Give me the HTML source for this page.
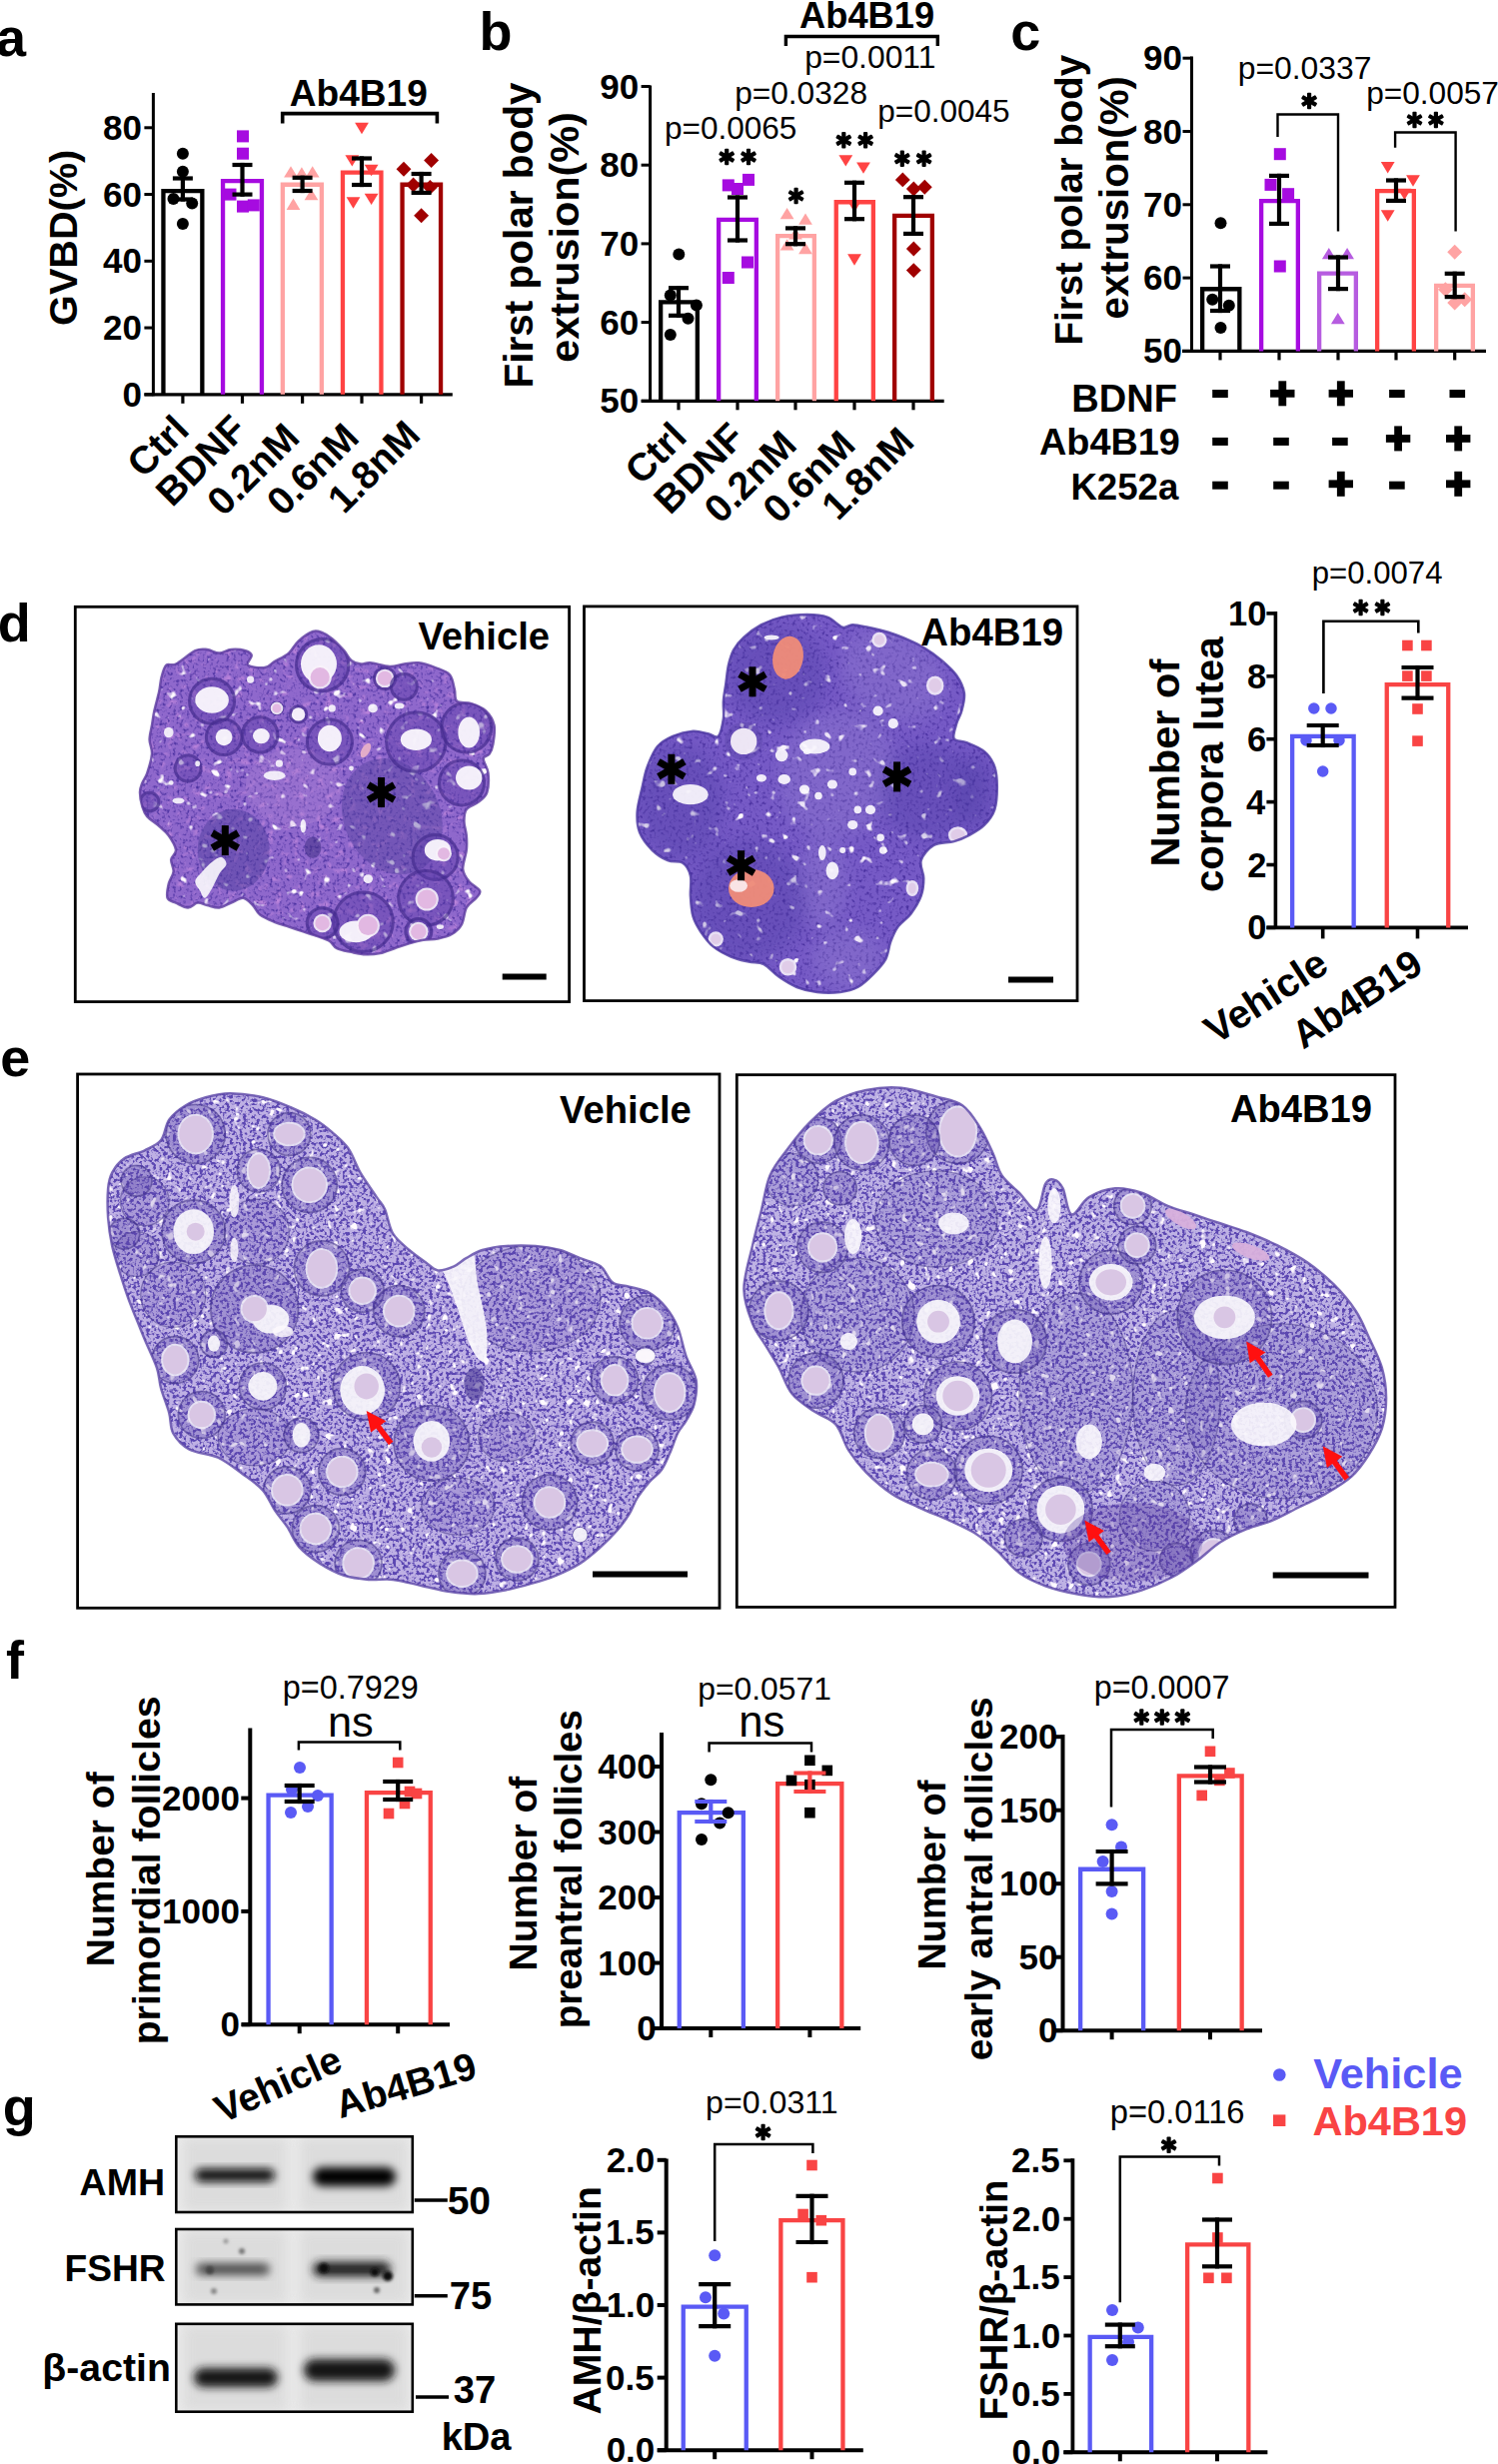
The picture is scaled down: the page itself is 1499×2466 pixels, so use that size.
<!DOCTYPE html>
<html><head><meta charset="utf-8"><style>
html,body{margin:0;padding:0;background:#fff;}
svg{display:block;}
text{font-family:"Liberation Sans", sans-serif;}
</style></head><body>
<svg width="1499" height="2466" viewBox="0 0 1499 2466">
<defs>
<filter id="bl3" x="-50%" y="-50%" width="200%" height="200%"><feGaussianBlur stdDeviation="3"/></filter>
<filter id="bl4" x="-50%" y="-50%" width="200%" height="200%"><feGaussianBlur stdDeviation="4"/></filter>
<filter id="bl2" x="-100%" y="-100%" width="300%" height="300%"><feGaussianBlur stdDeviation="1.8"/></filter>
<filter id="bl6" x="-50%" y="-50%" width="200%" height="200%"><feGaussianBlur stdDeviation="6"/></filter>
<clipPath id="blotclip"><rect x="177.5" y="2130" width="234" height="300"/></clipPath>
</defs>
<rect width="1499" height="2466" fill="#fff"/>
<defs><filter id="soft" x="-30%" y="-30%" width="160%" height="160%"><feGaussianBlur stdDeviation="8"/></filter>
<filter id="nzA" x="0" y="0" width="100%" height="100%" color-interpolation-filters="sRGB">
<feTurbulence type="fractalNoise" baseFrequency="0.3" numOctaves="2" seed="3" result="n"/>
<feColorMatrix in="n" type="matrix" values="0 0 0 0 0.28 0 0 0 0 0.18 0 0 0 0 0.62 -3.0 0 0 0 1.45"/>
</filter>
<filter id="nzB" x="0" y="0" width="100%" height="100%" color-interpolation-filters="sRGB">
<feTurbulence type="fractalNoise" baseFrequency="0.09" numOctaves="2" seed="7" result="n"/>
<feColorMatrix in="n" type="matrix" values="0 0 0 0 1 0 0 0 0 0.98 0 0 0 0 1 -9.0 0 0 0 2.9"/>
</filter>
<filter id="nzE" x="0" y="0" width="100%" height="100%" color-interpolation-filters="sRGB">
<feTurbulence type="fractalNoise" baseFrequency="0.12" numOctaves="2" seed="11" result="n"/>
<feColorMatrix in="n" type="matrix" values="0 0 0 0 0.74 0 0 0 0 0.52 0 0 0 0 0.86 -3.5 0 0 0 1.5"/>
</filter>
<filter id="nzC" x="0" y="0" width="100%" height="100%" color-interpolation-filters="sRGB">
<feTurbulence type="fractalNoise" baseFrequency="0.3" numOctaves="2" seed="5" result="n"/>
<feColorMatrix in="n" type="matrix" values="0 0 0 0 0.36 0 0 0 0 0.28 0 0 0 0 0.7 -6.0 0 0 0 3.15"/>
</filter>
<filter id="nzD" x="0" y="0" width="100%" height="100%" color-interpolation-filters="sRGB">
<feTurbulence type="fractalNoise" baseFrequency="0.12" numOctaves="2" seed="9" result="n"/>
<feColorMatrix in="n" type="matrix" values="0 0 0 0 1 0 0 0 0 0.98 0 0 0 0 1 -9.0 0 0 0 3.1"/>
</filter>
<clipPath id="clipdv"><path d="M166.4,665.7 C168.8,663.5 171.2,666.9 176,664.5 C180.9,662.1 190.1,653.6 195.3,651.2 C200.5,648.8 203.3,649.6 207.3,650 C211.3,650.4 215.3,653.6 219.3,653.6 C223.3,653.6 226.9,650.4 231.3,650 C235.7,649.6 242.3,650.2 245.7,651.2 C249.1,652.2 251.4,653.6 251.8,656 C252.2,658.5 245.9,663.7 248.1,665.7 C250.4,667.7 260.6,668.7 265,668.1 C269.4,667.5 270.6,664.5 274.6,662.1 C278.6,659.7 285,657.1 289,653.6 C293,650.2 294.6,645.2 298.6,641.6 C302.6,638 309,633.4 313,632 C317,630.6 319.4,632 322.6,633.2 C325.9,634.4 328.7,636.2 332.3,639.2 C335.9,642.2 341.1,647.6 344.3,651.2 C347.5,654.8 348.7,658.7 351.5,660.9 C354.3,663.1 357.9,664.1 361.1,664.5 C364.3,664.9 365.9,662.9 370.7,663.3 C375.5,663.7 384.3,666.7 389.9,666.9 C395.5,667.1 399.6,665.1 404.4,664.5 C409.2,663.9 413.6,662.7 418.8,663.3 C424,663.9 430.4,666.1 435.6,668.1 C440.8,670.1 446.8,671.7 450,675.3 C453.2,678.9 453.6,685.3 454.8,689.7 C456,694.1 454.4,699.3 457.2,701.7 C460,704.1 466.8,702.5 471.7,704.1 C476.5,705.7 482.3,707.7 486.1,711.3 C489.9,714.9 493.3,720.1 494.5,725.7 C495.7,731.4 494.1,740.2 493.3,745 C492.5,749.8 491.3,752.2 489.7,754.6 C488.1,757 483.9,756.2 483.7,759.4 C483.5,762.6 487.9,768.2 488.5,773.8 C489.1,779.4 488.9,788.2 487.3,793 C485.7,797.8 482.3,799.8 478.9,802.6 C475.5,805.5 469.2,806.7 466.8,809.9 C464.4,813.1 464.4,817.5 464.4,821.9 C464.4,826.3 466.4,831.5 466.8,836.3 C467.2,841.1 467.4,845.1 466.8,850.7 C466.2,856.3 462.8,864.7 463.2,869.9 C463.6,875.1 466.4,878.4 469.2,882 C472.1,885.6 478.9,888.8 480.1,891.6 C481.3,894.4 478.7,896 476.5,898.8 C474.3,901.6 469.2,904 466.8,908.4 C464.4,912.8 464.4,920.8 462,925.2 C459.6,929.6 456.4,932.4 452.4,934.8 C448.4,937.2 442.8,938.6 438,939.6 C433.2,940.6 428.4,940 423.6,940.8 C418.8,941.6 414,943 409.2,944.4 C404.4,945.8 399.6,947.6 394.7,949.2 C389.9,950.8 385.1,953.1 380.3,954.1 C375.5,955.1 370.7,955.5 365.9,955.3 C361.1,955.1 356.3,953.9 351.5,952.9 C346.7,951.9 340.7,951.1 337.1,949.2 C333.5,947.4 333.1,944 329.9,942 C326.7,940 322.2,938.8 317.8,937.2 C313.4,935.6 308.2,934 303.4,932.4 C298.6,930.8 293.8,929.2 289,927.6 C284.2,926 279.4,924.8 274.6,922.8 C269.8,920.8 263.8,918.4 260.2,915.6 C256.6,912.8 255.8,908.8 253,906 C250.1,903.2 246.9,899.2 243.3,898.8 C239.7,898.4 235.3,902 231.3,903.6 C227.3,905.2 223.3,908 219.3,908.4 C215.3,908.8 210.9,906.8 207.3,906 C203.7,905.2 200.9,903.2 197.7,903.6 C194.5,904 191.7,908.4 188.1,908.4 C184.5,908.4 179.5,905.2 176,903.6 C172.6,902 168.8,902 167.6,898.8 C166.4,895.6 167.8,888.8 168.8,884.4 C169.8,880 173.2,876.3 173.6,872.3 C174,868.3 170.8,863.9 171.2,860.3 C171.6,856.7 176.4,854.7 176,850.7 C175.6,846.7 171.6,840.3 168.8,836.3 C166,832.3 162.8,829.9 159.2,826.7 C155.6,823.5 150,820.3 147.2,817.1 C144.4,813.9 143.6,811.5 142.4,807.5 C141.2,803.4 140,797 140,793 C140,789 141.2,786.6 142.4,783.4 C143.6,780.2 145.6,778.6 147.2,773.8 C148.8,769 151.6,760.2 152,754.6 C152.4,749 149.6,745 149.6,740.2 C149.6,735.4 151.2,730.6 152,725.7 C152.8,720.9 153.2,716.9 154.4,711.3 C155.6,705.7 158,697.7 159.2,692.1 C160.4,686.5 160.4,682.1 161.6,677.7 C162.8,673.3 164,667.9 166.4,665.7Z"/></clipPath>
<clipPath id="clipda"><path d="M734,650.6 C736.5,645.9 739.5,642.1 744.2,637.9 C748.8,633.7 755.6,628.6 761.9,625.2 C768.3,621.8 774.6,619.3 782.2,617.6 C789.8,615.9 800,615.1 807.6,615.1 C815.2,615.1 821.9,615.5 827.9,617.6 C833.8,619.7 838.9,626.5 843.1,627.8 C847.3,629 849,625.2 853.2,625.2 C857.5,625.2 862.5,626.5 868.5,627.8 C874.4,629 882,630.7 888.8,632.8 C895.5,634.9 903.1,637.9 909,640.4 C915,643 918.8,644.7 924.3,648.1 C929.8,651.4 936.5,656.1 942,660.7 C947.5,665.4 953.4,670.5 957.2,676 C961.1,681.5 964,687.8 964.9,693.7 C965.7,699.6 963.6,706.4 962.3,711.5 C961.1,716.5 958.5,719.5 957.2,724.2 C956,728.8 953,736.2 954.7,739.4 C956.4,742.5 962.3,741.1 967.4,743.2 C972.5,745.3 980.5,748 985.1,752.1 C989.8,756.1 993.2,761.4 995.3,767.3 C997.4,773.2 997.8,780.4 997.8,787.6 C997.8,794.8 997.4,804.1 995.3,810.4 C993.2,816.7 989.4,821.4 985.1,825.6 C980.9,829.9 975,833 969.9,835.8 C964.9,838.5 960.6,840.4 954.7,842.1 C948.8,843.8 939.9,842.7 934.4,845.9 C928.9,849.1 923.4,855.6 921.7,861.1 C920,866.6 924.3,873 924.3,878.9 C924.3,884.8 923.8,890.7 921.7,896.7 C919.6,902.6 915.4,909.3 911.6,914.4 C907.8,919.5 902.3,922.4 898.9,927.1 C895.5,931.7 893.4,936.8 891.3,942.3 C889.2,947.8 889.2,954.6 886.2,960.1 C883.3,965.6 878.2,970.6 873.5,975.3 C868.9,979.9 863.8,985 858.3,988 C852.8,990.9 847.3,992.2 840.6,993.1 C833.8,993.9 824.9,993.9 817.7,993.1 C810.5,992.2 803.8,990.5 797.4,988 C791.1,985.4 785.2,981.6 779.7,977.8 C774.2,974 769.5,967.7 764.4,965.1 C759.4,962.6 754.7,963.9 749.2,962.6 C743.7,961.3 737.4,960.1 731.5,957.5 C725.6,955 718.8,951.6 713.7,947.4 C708.6,943.2 704.4,937.2 701,932.2 C697.6,927.1 695.1,922.9 693.4,917 C691.7,911 691.3,903.4 690.9,896.7 C690.5,889.9 692.2,881.9 690.9,876.4 C689.6,870.9 687.1,866.2 683.3,863.7 C679.5,861.1 673.1,863.3 668.1,861.1 C663,859 657.5,855.6 652.8,851 C648.2,846.3 642.7,839.6 640.1,833.2 C637.6,826.9 637.2,820.6 637.6,812.9 C638,805.3 641,795.2 642.7,787.6 C644.4,780 645.2,774 647.8,767.3 C650.3,760.5 653.7,752.1 657.9,747 C662.1,741.9 667.2,739.4 673.1,736.8 C679,734.3 687.5,732.2 693.4,731.8 C699.3,731.3 704.4,733.5 708.6,734.3 C712.9,735.1 716.3,739.4 718.8,736.8 C721.3,734.3 723,725 723.9,719.1 C724.7,713.2 723.4,707.2 723.9,701.3 C724.3,695.4 725.6,689.5 726.4,683.6 C727.2,677.6 727.7,671.3 728.9,665.8 C730.2,660.3 731.5,655.2 734,650.6Z"/></clipPath>
<clipPath id="clipev"><path d="M112.2,1173.7 C114.9,1168.6 119,1163.1 124.4,1159.4 C129.9,1155.7 138.7,1154.3 144.8,1151.3 C150.9,1148.2 157,1146.2 161.1,1141.1 C165.2,1136 165.2,1126.5 169.2,1120.7 C173.3,1115 179.4,1110.2 185.5,1106.5 C191.6,1102.7 198.4,1100.4 205.9,1098.3 C213.3,1096.3 220.8,1094.3 230.3,1094.3 C239.8,1094.3 252.7,1095.9 262.9,1098.3 C273.1,1100.7 282.6,1104.8 291.4,1108.5 C300.2,1112.2 309,1116.6 315.8,1120.7 C322.6,1124.8 326.7,1128.2 332.1,1132.9 C337.5,1137.7 343.7,1142.4 348.4,1149.2 C353.2,1156 355.9,1165.5 360.6,1173.7 C365.4,1181.8 372.8,1192 376.9,1198.1 C381,1204.2 382.3,1204.2 385.1,1210.3 C387.8,1216.4 389.1,1228 393.2,1234.7 C397.3,1241.5 404.1,1246.3 409.5,1251 C414.9,1255.8 421,1259.9 425.8,1263.2 C430.5,1266.6 433.2,1270.7 438,1271.4 C442.7,1272.1 449.5,1269.4 454.3,1267.3 C459,1265.3 461.7,1261.9 466.5,1259.2 C471.2,1256.5 476,1253.1 482.8,1251 C489.6,1249 498.4,1247.6 507.2,1247 C516,1246.3 526.9,1246.3 535.7,1247 C544.5,1247.6 552.7,1249 560.2,1251 C567.6,1253.1 573.7,1256.5 580.5,1259.2 C587.3,1261.9 595.4,1263.2 600.9,1267.3 C606.3,1271.4 608.3,1280.2 613.1,1283.6 C617.8,1287 623.3,1286 629.4,1287.7 C635.5,1289.4 643.6,1290.4 649.7,1293.8 C655.8,1297.2 661.3,1302.3 666,1308 C670.8,1313.8 674.9,1320.3 678.2,1328.4 C681.6,1336.5 683.3,1348.1 686.4,1356.9 C689.4,1365.7 695.2,1373.2 696.6,1381.3 C697.9,1389.5 696.2,1399 694.5,1405.8 C692.8,1412.6 689.1,1417.3 686.4,1422.1 C683.7,1426.8 681,1428.8 678.2,1434.3 C675.5,1439.7 672.8,1448.5 670.1,1454.6 C667.4,1460.7 665.4,1466.2 662,1470.9 C658.6,1475.7 653.8,1478.4 649.7,1483.1 C645.7,1487.9 640.9,1494 637.5,1499.4 C634.1,1504.9 632.8,1510.3 629.4,1515.7 C626,1521.2 621.9,1526.6 617.2,1532 C612.4,1537.4 607,1542.9 600.9,1548.3 C594.8,1553.7 588,1559.8 580.5,1564.6 C573,1569.3 564.2,1573.4 556.1,1576.8 C547.9,1580.2 539.8,1582.6 531.6,1584.9 C523.5,1587.3 516,1589.4 507.2,1591.1 C498.4,1592.8 488.2,1594.8 478.7,1595.1 C469.2,1595.5 459.7,1594.4 450.2,1593.1 C440.7,1591.7 431.2,1589 421.7,1587 C412.2,1584.9 402,1581.9 393.2,1580.9 C384.4,1579.9 376.9,1581.6 368.8,1580.9 C360.6,1580.2 352.5,1579.5 344.3,1576.8 C336.2,1574.1 327.4,1569.3 319.9,1564.6 C312.4,1559.8 305,1554.4 299.5,1548.3 C294.1,1542.2 291.4,1534 287.3,1527.9 C283.2,1521.8 279.2,1517.8 275.1,1511.6 C271,1505.5 268.3,1497.4 262.9,1491.3 C257.5,1485.2 250,1480.4 242.5,1475 C235.1,1469.6 226.9,1462.8 218.1,1458.7 C209.3,1454.6 197.1,1454.6 189.6,1450.6 C182.1,1446.5 176.7,1440.4 173.3,1434.3 C169.9,1428.2 171.3,1421.4 169.2,1413.9 C167.2,1406.5 163.1,1396.9 161.1,1389.5 C159,1382 159.7,1377.3 157,1369.1 C154.3,1361 148.2,1348.8 144.8,1340.6 C141.4,1332.5 139.4,1327 136.6,1320.3 C133.9,1313.5 131.2,1307.4 128.5,1299.9 C125.8,1292.4 123.1,1284.3 120.4,1275.5 C117.6,1266.6 114.3,1256.5 112.2,1247 C110.2,1237.5 108.8,1228 108.1,1218.5 C107.5,1209 107.5,1197.4 108.1,1189.9 C108.8,1182.5 109.5,1178.7 112.2,1173.7Z"/></clipPath>
<clipPath id="clipea"><path d="M753.1,1246.2 C756,1233 758.9,1222.8 761.9,1211.2 C764.8,1199.5 766.2,1186.4 770.6,1176.2 C775,1166 781.5,1158.7 788.1,1150 C794.7,1141.2 801.9,1131.7 810,1123.7 C818,1115.7 826.7,1107.3 836.2,1101.9 C845.7,1096.4 855.9,1093.1 866.8,1090.9 C877.7,1088.7 890.1,1087.7 901.8,1088.7 C913.4,1089.8 926.6,1094.6 936.8,1097.5 C947,1100.4 955.7,1101.1 963,1106.2 C970.3,1111.3 975.4,1120.1 980.5,1128.1 C985.6,1136.1 990,1146.3 993.6,1154.3 C997.3,1162.3 998,1169.6 1002.4,1176.2 C1006.7,1182.8 1014,1187.9 1019.8,1193.7 C1025.7,1199.5 1033,1212.6 1037.3,1211.2 C1041.7,1209.7 1043.2,1190 1046.1,1184.9 C1049,1179.8 1051.9,1179.8 1054.8,1180.6 C1057.7,1181.3 1060.7,1183.5 1063.6,1189.3 C1066.5,1195.1 1067.9,1214.1 1072.3,1215.5 C1076.7,1217 1082.5,1202.4 1089.8,1198.1 C1097.1,1193.7 1107.3,1190 1116,1189.3 C1124.8,1188.6 1133.5,1190.8 1142.3,1193.7 C1151,1196.6 1159.8,1203.2 1168.5,1206.8 C1177.3,1210.4 1186,1212.6 1194.7,1215.5 C1203.5,1218.5 1212.2,1221.4 1221,1224.3 C1229.7,1227.2 1237.7,1229.4 1247.2,1233 C1256.7,1236.7 1267.6,1241.1 1277.8,1246.2 C1288,1251.3 1299,1257.1 1308.4,1263.6 C1317.9,1270.2 1326.6,1277.5 1334.7,1285.5 C1342.7,1293.5 1350.7,1303 1356.5,1311.7 C1362.4,1320.5 1365.3,1328.5 1369.6,1338 C1374,1347.5 1379.8,1358.4 1382.8,1368.6 C1385.7,1378.8 1387.1,1389 1387.1,1399.2 C1387.1,1409.4 1385.7,1420.3 1382.8,1429.8 C1379.8,1439.3 1374.7,1448 1369.6,1456 C1364.5,1464.1 1359.4,1471.3 1352.2,1477.9 C1344.9,1484.5 1334.7,1490.3 1325.9,1495.4 C1317.2,1500.5 1308.4,1504.1 1299.7,1508.5 C1290.9,1512.9 1282.2,1518 1273.4,1521.6 C1264.7,1525.3 1256,1526.7 1247.2,1530.4 C1238.5,1534 1229,1538.4 1221,1543.5 C1213,1548.6 1207.1,1555.1 1199.1,1561 C1191.1,1566.8 1182.4,1573.4 1172.9,1578.5 C1163.4,1583.6 1152.5,1588.3 1142.3,1591.6 C1132.1,1594.9 1121.9,1597.4 1111.7,1598.1 C1101.5,1598.9 1092,1597.8 1081.1,1596 C1070.1,1594.1 1056.3,1590.9 1046.1,1587.2 C1035.9,1583.6 1027.9,1579.9 1019.8,1574.1 C1011.8,1568.3 1005.3,1558.8 998,1552.2 C990.7,1545.7 984.1,1539.8 976.1,1534.7 C968.1,1529.6 959.4,1526 949.9,1521.6 C940.4,1517.3 928.7,1512.9 919.3,1508.5 C909.8,1504.1 901.8,1501.2 893,1495.4 C884.3,1489.6 874.1,1480.8 866.8,1473.5 C859.5,1466.2 854.4,1459.7 849.3,1451.7 C844.2,1443.6 842,1432 836.2,1425.4 C830.4,1418.9 821.6,1417.4 814.3,1412.3 C807,1407.2 798.3,1402.1 792.5,1394.8 C786.6,1387.5 783.7,1376.6 779.4,1368.6 C775,1360.6 770.6,1354 766.2,1346.7 C761.9,1339.4 756.8,1334.3 753.1,1324.9 C749.5,1315.4 744.4,1303 744.4,1289.9 C744.4,1276.8 750.2,1259.3 753.1,1246.2Z"/></clipPath></defs>
<g clip-path="url(#clipdv)">
<rect x="76" y="608" width="493" height="394" fill="#8f68cc"/>
<rect x="76" y="608" width="493" height="394" filter="url(#nzE)"/>
<rect x="76" y="608" width="493" height="394" filter="url(#nzA)"/>
<rect x="76" y="608" width="493" height="394" filter="url(#nzB)"/>
<ellipse cx="392.3" cy="817.1" rx="48.1" ry="60.1" fill="#4e3d9c" opacity="0.42" transform="rotate(-25 392.3 817.1)"/>
<ellipse cx="233.7" cy="850.7" rx="36" ry="40.9" fill="#4a3a98" opacity="0.45"/>
<ellipse cx="313" cy="848.3" rx="8.4" ry="10.8" fill="#3a2a80" opacity="0.5"/>
<ellipse cx="293.8" cy="788.2" rx="48.1" ry="38.5" fill="#b488d8" opacity="0.25"/>
<path d="M212.1,862.7 C215.3,860.3 219.3,857.5 221.7,857.9 C224.1,858.3 226.9,862.3 226.5,865.1 C226.1,867.9 221.7,870.7 219.3,874.7 C216.9,878.8 214.5,885.2 212.1,889.2 C209.7,893.2 206.9,898.4 204.9,898.8 C202.9,899.2 201.7,894.4 200.1,891.6 C198.5,888.8 194.9,885.2 195.3,882 C195.7,878.8 199.7,875.5 202.5,872.3 C205.3,869.1 208.9,865.1 212.1,862.7Z" fill="#fbf9fd" opacity="0.9"/>
<circle cx="322.6" cy="665.7" r="27.6" fill="#5a3ca8" opacity="0.42"/>
<circle cx="322.6" cy="665.7" r="26.1" fill="none" stroke="#3a2484" stroke-width="3" opacity="0.5"/>
<ellipse cx="319" cy="664.5" rx="18" ry="19.2" fill="#fbf8fd" opacity="0.95"/>
<circle cx="320.2" cy="677.7" r="11.6" fill="#f8f2fa" opacity="0.9"/>
<circle cx="320.2" cy="677.7" r="9.6" fill="#e2b8e2" opacity="1"/>
<circle cx="212.1" cy="701.7" r="24" fill="#5a3ca8" opacity="0.42"/>
<circle cx="212.1" cy="701.7" r="22.5" fill="none" stroke="#3a2484" stroke-width="3" opacity="0.5"/>
<ellipse cx="212.1" cy="700.5" rx="16.8" ry="13.2" fill="#fbf8fd" opacity="0.95"/>
<circle cx="385.1" cy="678.9" r="12" fill="#5a3ca8" opacity="0.42"/>
<circle cx="385.1" cy="678.9" r="10.5" fill="none" stroke="#3a2484" stroke-width="3" opacity="0.5"/>
<circle cx="385.1" cy="678.9" r="9.2" fill="#f8f2fa" opacity="0.9"/>
<circle cx="385.1" cy="678.9" r="7.2" fill="#e2b8e2" opacity="1"/>
<circle cx="277" cy="708.9" r="7.2" fill="#5a3ca8" opacity="0.42"/>
<circle cx="277" cy="708.9" r="5.7" fill="none" stroke="#3a2484" stroke-width="3" opacity="0.5"/>
<circle cx="277" cy="708.9" r="6.3" fill="#f8f2fa" opacity="0.9"/>
<circle cx="277" cy="708.9" r="4.3" fill="#e2b8e2" opacity="1"/>
<circle cx="298.6" cy="714.9" r="9.6" fill="#5a3ca8" opacity="0.42"/>
<circle cx="298.6" cy="714.9" r="8.1" fill="none" stroke="#3a2484" stroke-width="3" opacity="0.5"/>
<ellipse cx="298.6" cy="714.9" rx="6.7" ry="6.7" fill="#fbf8fd" opacity="0.95"/>
<circle cx="224.1" cy="737.8" r="19.2" fill="#5a3ca8" opacity="0.42"/>
<circle cx="224.1" cy="737.8" r="17.7" fill="none" stroke="#3a2484" stroke-width="3" opacity="0.5"/>
<ellipse cx="224.1" cy="737.8" rx="8.4" ry="8.4" fill="#fbf8fd" opacity="0.95"/>
<circle cx="260.2" cy="735.4" r="19.2" fill="#5a3ca8" opacity="0.42"/>
<circle cx="260.2" cy="735.4" r="17.7" fill="none" stroke="#3a2484" stroke-width="3" opacity="0.5"/>
<ellipse cx="261.4" cy="736.6" rx="8.4" ry="7.7" fill="#fbf8fd" opacity="0.95"/>
<circle cx="329.9" cy="742.6" r="24" fill="#5a3ca8" opacity="0.42"/>
<circle cx="329.9" cy="742.6" r="22.5" fill="none" stroke="#3a2484" stroke-width="3" opacity="0.5"/>
<ellipse cx="329.9" cy="739" rx="12" ry="13.2" fill="#fbf8fd" opacity="0.95"/>
<circle cx="416.4" cy="742.6" r="31.2" fill="#5a3ca8" opacity="0.42"/>
<circle cx="416.4" cy="742.6" r="29.7" fill="none" stroke="#3a2484" stroke-width="3" opacity="0.5"/>
<ellipse cx="416.4" cy="740.2" rx="15.6" ry="10.8" fill="#fbf8fd" opacity="0.95"/>
<circle cx="466.8" cy="728.1" r="26.4" fill="#5a3ca8" opacity="0.42"/>
<circle cx="466.8" cy="728.1" r="24.9" fill="none" stroke="#3a2484" stroke-width="3" opacity="0.5"/>
<ellipse cx="469.2" cy="733" rx="10.8" ry="15.6" fill="#fbf8fd" opacity="0.95"/>
<circle cx="462" cy="783.4" r="24" fill="#5a3ca8" opacity="0.42"/>
<circle cx="462" cy="783.4" r="22.5" fill="none" stroke="#3a2484" stroke-width="3" opacity="0.5"/>
<ellipse cx="469.2" cy="778.6" rx="13.2" ry="12" fill="#fbf8fd" opacity="0.95"/>
<circle cx="435.6" cy="857.9" r="24" fill="#5a3ca8" opacity="0.42"/>
<circle cx="435.6" cy="857.9" r="22.5" fill="none" stroke="#3a2484" stroke-width="3" opacity="0.5"/>
<ellipse cx="438" cy="850.7" rx="13.2" ry="10.8" fill="#fbf8fd" opacity="0.95"/>
<circle cx="444" cy="854.3" r="8" fill="#f8f2fa" opacity="0.9"/>
<circle cx="444" cy="854.3" r="6" fill="#e2b8e2" opacity="1"/>
<circle cx="426" cy="898.8" r="28.8" fill="#5a3ca8" opacity="0.42"/>
<circle cx="426" cy="898.8" r="27.3" fill="none" stroke="#3a2484" stroke-width="3" opacity="0.5"/>
<circle cx="427.2" cy="900" r="11.6" fill="#f8f2fa" opacity="0.9"/>
<circle cx="427.2" cy="900" r="9.6" fill="#e2b8e2" opacity="1"/>
<circle cx="363.5" cy="922.8" r="31.2" fill="#5a3ca8" opacity="0.42"/>
<circle cx="363.5" cy="922.8" r="29.7" fill="none" stroke="#3a2484" stroke-width="3" opacity="0.5"/>
<ellipse cx="356.3" cy="932.4" rx="16.8" ry="10.8" fill="#fbf8fd" opacity="0.95"/>
<circle cx="368.3" cy="926.4" r="11.6" fill="#f8f2fa" opacity="0.9"/>
<circle cx="368.3" cy="926.4" r="9.6" fill="#e2b8e2" opacity="1"/>
<circle cx="322.6" cy="924" r="16.8" fill="#5a3ca8" opacity="0.42"/>
<circle cx="322.6" cy="924" r="15.3" fill="none" stroke="#3a2484" stroke-width="3" opacity="0.5"/>
<circle cx="322.6" cy="924" r="9.2" fill="#f8f2fa" opacity="0.9"/>
<circle cx="322.6" cy="924" r="7.2" fill="#e2b8e2" opacity="1"/>
<circle cx="418.8" cy="932.4" r="14.4" fill="#5a3ca8" opacity="0.42"/>
<circle cx="418.8" cy="932.4" r="12.9" fill="none" stroke="#3a2484" stroke-width="3" opacity="0.5"/>
<circle cx="418.8" cy="932.4" r="9.7" fill="#f8f2fa" opacity="0.9"/>
<circle cx="418.8" cy="932.4" r="7.7" fill="#e2b8e2" opacity="1"/>
<circle cx="404.4" cy="687.3" r="14.4" fill="#5a3ca8" opacity="0.42"/>
<circle cx="404.4" cy="687.3" r="12.9" fill="none" stroke="#3a2484" stroke-width="3" opacity="0.5"/>
<circle cx="188.1" cy="769" r="14.4" fill="#5a3ca8" opacity="0.42"/>
<circle cx="188.1" cy="769" r="12.9" fill="none" stroke="#3a2484" stroke-width="3" opacity="0.5"/>
<circle cx="149.6" cy="802.6" r="10.8" fill="#5a3ca8" opacity="0.42"/>
<circle cx="149.6" cy="802.6" r="9.3" fill="none" stroke="#3a2484" stroke-width="3" opacity="0.5"/>
<ellipse cx="168.8" cy="733" rx="4.8" ry="5.3" fill="#fbf8fd" opacity="0.9"/>
<ellipse cx="274.6" cy="776.2" rx="10.8" ry="4.8" fill="#fbf8fd" opacity="0.9"/>
<ellipse cx="171.2" cy="783.4" rx="2.4" ry="2.4" fill="#fbf8fd" opacity="0.9"/>
<ellipse cx="178.5" cy="801.4" rx="6" ry="2.9" fill="#fbf8fd" opacity="0.9"/>
<ellipse cx="279.4" cy="764.2" rx="3.6" ry="3.6" fill="#fbf8fd" opacity="0.9"/>
<ellipse cx="373.1" cy="708.9" rx="4.8" ry="4.3" fill="#fbf8fd" opacity="0.9"/>
<ellipse cx="332.3" cy="708.9" rx="3.6" ry="3.6" fill="#fbf8fd" opacity="0.9"/>
<ellipse cx="250.6" cy="680.1" rx="3.6" ry="3.6" fill="#fbf8fd" opacity="0.9"/>
<ellipse cx="368.3" cy="879.6" rx="4.8" ry="4.3" fill="#fbf8fd" opacity="0.9"/>
<ellipse cx="303.4" cy="826.7" rx="2.9" ry="6.7" fill="#fbf8fd" opacity="0.9"/>
<ellipse cx="440.4" cy="927.6" rx="3.6" ry="2.4" fill="#fbf8fd" opacity="0.9"/>
<ellipse cx="197.7" cy="764.2" rx="2.4" ry="2.9" fill="#fbf8fd" opacity="0.9"/>
<ellipse cx="351.5" cy="769" rx="2.4" ry="2.4" fill="#fbf8fd" opacity="0.9"/>
<ellipse cx="399.6" cy="706.5" rx="4.8" ry="2.9" fill="#fbf8fd" opacity="0.9"/>
<ellipse cx="365.9" cy="751" rx="8" ry="4" fill="#e8b0c8" opacity="0.95" transform="rotate(-60 365.9 751)"/>
</g>
<path d="M166.4,665.7 C168.8,663.5 171.2,666.9 176,664.5 C180.9,662.1 190.1,653.6 195.3,651.2 C200.5,648.8 203.3,649.6 207.3,650 C211.3,650.4 215.3,653.6 219.3,653.6 C223.3,653.6 226.9,650.4 231.3,650 C235.7,649.6 242.3,650.2 245.7,651.2 C249.1,652.2 251.4,653.6 251.8,656 C252.2,658.5 245.9,663.7 248.1,665.7 C250.4,667.7 260.6,668.7 265,668.1 C269.4,667.5 270.6,664.5 274.6,662.1 C278.6,659.7 285,657.1 289,653.6 C293,650.2 294.6,645.2 298.6,641.6 C302.6,638 309,633.4 313,632 C317,630.6 319.4,632 322.6,633.2 C325.9,634.4 328.7,636.2 332.3,639.2 C335.9,642.2 341.1,647.6 344.3,651.2 C347.5,654.8 348.7,658.7 351.5,660.9 C354.3,663.1 357.9,664.1 361.1,664.5 C364.3,664.9 365.9,662.9 370.7,663.3 C375.5,663.7 384.3,666.7 389.9,666.9 C395.5,667.1 399.6,665.1 404.4,664.5 C409.2,663.9 413.6,662.7 418.8,663.3 C424,663.9 430.4,666.1 435.6,668.1 C440.8,670.1 446.8,671.7 450,675.3 C453.2,678.9 453.6,685.3 454.8,689.7 C456,694.1 454.4,699.3 457.2,701.7 C460,704.1 466.8,702.5 471.7,704.1 C476.5,705.7 482.3,707.7 486.1,711.3 C489.9,714.9 493.3,720.1 494.5,725.7 C495.7,731.4 494.1,740.2 493.3,745 C492.5,749.8 491.3,752.2 489.7,754.6 C488.1,757 483.9,756.2 483.7,759.4 C483.5,762.6 487.9,768.2 488.5,773.8 C489.1,779.4 488.9,788.2 487.3,793 C485.7,797.8 482.3,799.8 478.9,802.6 C475.5,805.5 469.2,806.7 466.8,809.9 C464.4,813.1 464.4,817.5 464.4,821.9 C464.4,826.3 466.4,831.5 466.8,836.3 C467.2,841.1 467.4,845.1 466.8,850.7 C466.2,856.3 462.8,864.7 463.2,869.9 C463.6,875.1 466.4,878.4 469.2,882 C472.1,885.6 478.9,888.8 480.1,891.6 C481.3,894.4 478.7,896 476.5,898.8 C474.3,901.6 469.2,904 466.8,908.4 C464.4,912.8 464.4,920.8 462,925.2 C459.6,929.6 456.4,932.4 452.4,934.8 C448.4,937.2 442.8,938.6 438,939.6 C433.2,940.6 428.4,940 423.6,940.8 C418.8,941.6 414,943 409.2,944.4 C404.4,945.8 399.6,947.6 394.7,949.2 C389.9,950.8 385.1,953.1 380.3,954.1 C375.5,955.1 370.7,955.5 365.9,955.3 C361.1,955.1 356.3,953.9 351.5,952.9 C346.7,951.9 340.7,951.1 337.1,949.2 C333.5,947.4 333.1,944 329.9,942 C326.7,940 322.2,938.8 317.8,937.2 C313.4,935.6 308.2,934 303.4,932.4 C298.6,930.8 293.8,929.2 289,927.6 C284.2,926 279.4,924.8 274.6,922.8 C269.8,920.8 263.8,918.4 260.2,915.6 C256.6,912.8 255.8,908.8 253,906 C250.1,903.2 246.9,899.2 243.3,898.8 C239.7,898.4 235.3,902 231.3,903.6 C227.3,905.2 223.3,908 219.3,908.4 C215.3,908.8 210.9,906.8 207.3,906 C203.7,905.2 200.9,903.2 197.7,903.6 C194.5,904 191.7,908.4 188.1,908.4 C184.5,908.4 179.5,905.2 176,903.6 C172.6,902 168.8,902 167.6,898.8 C166.4,895.6 167.8,888.8 168.8,884.4 C169.8,880 173.2,876.3 173.6,872.3 C174,868.3 170.8,863.9 171.2,860.3 C171.6,856.7 176.4,854.7 176,850.7 C175.6,846.7 171.6,840.3 168.8,836.3 C166,832.3 162.8,829.9 159.2,826.7 C155.6,823.5 150,820.3 147.2,817.1 C144.4,813.9 143.6,811.5 142.4,807.5 C141.2,803.4 140,797 140,793 C140,789 141.2,786.6 142.4,783.4 C143.6,780.2 145.6,778.6 147.2,773.8 C148.8,769 151.6,760.2 152,754.6 C152.4,749 149.6,745 149.6,740.2 C149.6,735.4 151.2,730.6 152,725.7 C152.8,720.9 153.2,716.9 154.4,711.3 C155.6,705.7 158,697.7 159.2,692.1 C160.4,686.5 160.4,682.1 161.6,677.7 C162.8,673.3 164,667.9 166.4,665.7Z" fill="none" stroke="#5b3a9f" stroke-width="2.5" opacity="0.8"/>
<rect x="366.5" y="789.5" width="30" height="7" fill="#000" transform="rotate(90 381.5 793)"/><rect x="366.5" y="789.5" width="30" height="7" fill="#000" transform="rotate(30 381.5 793)"/><rect x="366.5" y="789.5" width="30" height="7" fill="#000" transform="rotate(-30 381.5 793)"/>
<rect x="210.3" y="837.6" width="30" height="7" fill="#000" transform="rotate(90 225.3 841.1)"/><rect x="210.3" y="837.6" width="30" height="7" fill="#000" transform="rotate(30 225.3 841.1)"/><rect x="210.3" y="837.6" width="30" height="7" fill="#000" transform="rotate(-30 225.3 841.1)"/>
<g clip-path="url(#clipda)">
<rect x="585" y="607" width="492" height="394" fill="#765ac6"/>
<rect x="585" y="607" width="492" height="394" filter="url(#nzA)"/>
<rect x="585" y="607" width="492" height="394" filter="url(#nzB)"/>
<ellipse cx="838" cy="774.9" rx="58.3" ry="66" fill="#a898dc" opacity="0.22" transform="rotate(20 838 774.9)" filter="url(#soft)"/>
<ellipse cx="893.8" cy="676" rx="55.8" ry="43.1" fill="#a898dc" opacity="0.22" transform="rotate(30 893.8 676)" filter="url(#soft)"/>
<ellipse cx="848.2" cy="960.1" rx="35.5" ry="30.4" fill="#a898dc" opacity="0.22" filter="url(#soft)"/>
<ellipse cx="822.8" cy="884" rx="25.4" ry="45.7" fill="#a898dc" opacity="0.22" filter="url(#soft)"/>
<ellipse cx="777.1" cy="676" rx="50.7" ry="48.2" fill="#4a3aa0" opacity="0.3" filter="url(#soft)"/>
<ellipse cx="680.7" cy="802.8" rx="43.1" ry="58.3" fill="#4a3aa0" opacity="0.3" filter="url(#soft)"/>
<ellipse cx="749.2" cy="901.7" rx="58.3" ry="60.9" fill="#4a3aa0" opacity="0.3" filter="url(#soft)"/>
<ellipse cx="929.3" cy="792.6" rx="50.7" ry="48.2" fill="#4a3aa0" opacity="0.3" filter="url(#soft)"/>
<ellipse cx="977.5" cy="792.6" rx="20.3" ry="38.1" fill="#4a3aa0" opacity="0.3" filter="url(#soft)"/>
<ellipse cx="788.5" cy="658.2" rx="15.2" ry="21.6" fill="#f08c78" opacity="0.95" transform="rotate(10 788.5 658.2)"/>
<ellipse cx="751.8" cy="889" rx="22.8" ry="19" fill="#f08c78" opacity="0.95"/>
<ellipse cx="739.1" cy="886.5" rx="8.9" ry="6.3" fill="#fbf5f8" opacity="0.85"/>
<circle cx="744.2" cy="741.9" r="19" fill="#5a44a8" opacity="0.4"/>
<circle cx="744.2" cy="741.9" r="13.2" fill="#f4eef8" opacity="0.95"/>
<ellipse cx="690.9" cy="795.2" rx="17.8" ry="10.1" fill="#fbf8fd" opacity="0.92"/>
<ellipse cx="815.2" cy="747" rx="15.2" ry="7.6" fill="#fbf8fd" opacity="0.92"/>
<ellipse cx="782.2" cy="755.9" rx="6.3" ry="6.3" fill="#fbf8fd" opacity="0.92"/>
<ellipse cx="761.9" cy="778.7" rx="5.1" ry="3.8" fill="#fbf8fd" opacity="0.92"/>
<ellipse cx="784.7" cy="780" rx="6.3" ry="5.1" fill="#fbf8fd" opacity="0.92"/>
<ellipse cx="805" cy="790.1" rx="5.1" ry="4.6" fill="#fbf8fd" opacity="0.92"/>
<ellipse cx="819" cy="796.5" rx="3.8" ry="3.8" fill="#fbf8fd" opacity="0.92"/>
<ellipse cx="832.9" cy="785" rx="5.1" ry="4.6" fill="#fbf8fd" opacity="0.92"/>
<ellipse cx="853.2" cy="825.6" rx="5.1" ry="4.6" fill="#fbf8fd" opacity="0.92"/>
<ellipse cx="858.3" cy="810.4" rx="3.8" ry="3.8" fill="#fbf8fd" opacity="0.92"/>
<ellipse cx="871" cy="810.4" rx="5.1" ry="4.6" fill="#fbf8fd" opacity="0.92"/>
<ellipse cx="881.1" cy="838.3" rx="3.8" ry="3.8" fill="#fbf8fd" opacity="0.92"/>
<ellipse cx="883.7" cy="851" rx="3.8" ry="3.8" fill="#fbf8fd" opacity="0.92"/>
<ellipse cx="832.9" cy="871.3" rx="6.3" ry="8.9" fill="#fbf8fd" opacity="0.92"/>
<ellipse cx="878.6" cy="711.5" rx="5.1" ry="5.1" fill="#fbf8fd" opacity="0.92"/>
<ellipse cx="893.8" cy="724.2" rx="5.1" ry="5.1" fill="#fbf8fd" opacity="0.92"/>
<ellipse cx="822.8" cy="853.5" rx="3.8" ry="7.6" fill="#fbf8fd" opacity="0.92"/>
<ellipse cx="853.2" cy="772.4" rx="3.8" ry="3.8" fill="#fbf8fd" opacity="0.92"/>
<ellipse cx="772.1" cy="637.9" rx="7.6" ry="2.5" fill="#fbf8fd" opacity="0.92"/>
<ellipse cx="843.1" cy="851" rx="3" ry="3" fill="#fbf8fd" opacity="0.92"/>
<ellipse cx="807.6" cy="752.1" rx="3.8" ry="3" fill="#fbf8fd" opacity="0.92"/>
<ellipse cx="879.9" cy="640.4" rx="7.6" ry="7.6" fill="#f6f0fa" opacity="0.9"/>
<ellipse cx="879.9" cy="640.4" rx="5.1" ry="5.1" fill="#e0cce8" opacity="1"/>
<ellipse cx="935.7" cy="686.1" rx="8.8" ry="9.6" fill="#f6f0fa" opacity="0.9"/>
<ellipse cx="935.7" cy="686.1" rx="6.3" ry="7.1" fill="#e0cce8" opacity="1"/>
<ellipse cx="958.5" cy="835.8" rx="9.6" ry="8.6" fill="#f6f0fa" opacity="0.9"/>
<ellipse cx="958.5" cy="835.8" rx="7.1" ry="6.1" fill="#e0cce8" opacity="1"/>
<ellipse cx="912.9" cy="889" rx="6.3" ry="8.1" fill="#f6f0fa" opacity="0.9"/>
<ellipse cx="912.9" cy="889" rx="3.8" ry="5.6" fill="#e0cce8" opacity="1"/>
<ellipse cx="788.5" cy="967.7" rx="8.8" ry="8.8" fill="#f6f0fa" opacity="0.9"/>
<ellipse cx="788.5" cy="967.7" rx="6.3" ry="6.3" fill="#e0cce8" opacity="1"/>
<ellipse cx="716.3" cy="939.8" rx="7.6" ry="7.6" fill="#f6f0fa" opacity="0.9"/>
<ellipse cx="716.3" cy="939.8" rx="5.1" ry="5.1" fill="#e0cce8" opacity="1"/>
</g>
<path d="M734,650.6 C736.5,645.9 739.5,642.1 744.2,637.9 C748.8,633.7 755.6,628.6 761.9,625.2 C768.3,621.8 774.6,619.3 782.2,617.6 C789.8,615.9 800,615.1 807.6,615.1 C815.2,615.1 821.9,615.5 827.9,617.6 C833.8,619.7 838.9,626.5 843.1,627.8 C847.3,629 849,625.2 853.2,625.2 C857.5,625.2 862.5,626.5 868.5,627.8 C874.4,629 882,630.7 888.8,632.8 C895.5,634.9 903.1,637.9 909,640.4 C915,643 918.8,644.7 924.3,648.1 C929.8,651.4 936.5,656.1 942,660.7 C947.5,665.4 953.4,670.5 957.2,676 C961.1,681.5 964,687.8 964.9,693.7 C965.7,699.6 963.6,706.4 962.3,711.5 C961.1,716.5 958.5,719.5 957.2,724.2 C956,728.8 953,736.2 954.7,739.4 C956.4,742.5 962.3,741.1 967.4,743.2 C972.5,745.3 980.5,748 985.1,752.1 C989.8,756.1 993.2,761.4 995.3,767.3 C997.4,773.2 997.8,780.4 997.8,787.6 C997.8,794.8 997.4,804.1 995.3,810.4 C993.2,816.7 989.4,821.4 985.1,825.6 C980.9,829.9 975,833 969.9,835.8 C964.9,838.5 960.6,840.4 954.7,842.1 C948.8,843.8 939.9,842.7 934.4,845.9 C928.9,849.1 923.4,855.6 921.7,861.1 C920,866.6 924.3,873 924.3,878.9 C924.3,884.8 923.8,890.7 921.7,896.7 C919.6,902.6 915.4,909.3 911.6,914.4 C907.8,919.5 902.3,922.4 898.9,927.1 C895.5,931.7 893.4,936.8 891.3,942.3 C889.2,947.8 889.2,954.6 886.2,960.1 C883.3,965.6 878.2,970.6 873.5,975.3 C868.9,979.9 863.8,985 858.3,988 C852.8,990.9 847.3,992.2 840.6,993.1 C833.8,993.9 824.9,993.9 817.7,993.1 C810.5,992.2 803.8,990.5 797.4,988 C791.1,985.4 785.2,981.6 779.7,977.8 C774.2,974 769.5,967.7 764.4,965.1 C759.4,962.6 754.7,963.9 749.2,962.6 C743.7,961.3 737.4,960.1 731.5,957.5 C725.6,955 718.8,951.6 713.7,947.4 C708.6,943.2 704.4,937.2 701,932.2 C697.6,927.1 695.1,922.9 693.4,917 C691.7,911 691.3,903.4 690.9,896.7 C690.5,889.9 692.2,881.9 690.9,876.4 C689.6,870.9 687.1,866.2 683.3,863.7 C679.5,861.1 673.1,863.3 668.1,861.1 C663,859 657.5,855.6 652.8,851 C648.2,846.3 642.7,839.6 640.1,833.2 C637.6,826.9 637.2,820.6 637.6,812.9 C638,805.3 641,795.2 642.7,787.6 C644.4,780 645.2,774 647.8,767.3 C650.3,760.5 653.7,752.1 657.9,747 C662.1,741.9 667.2,739.4 673.1,736.8 C679,734.3 687.5,732.2 693.4,731.8 C699.3,731.3 704.4,733.5 708.6,734.3 C712.9,735.1 716.3,739.4 718.8,736.8 C721.3,734.3 723,725 723.9,719.1 C724.7,713.2 723.4,707.2 723.9,701.3 C724.3,695.4 725.6,689.5 726.4,683.6 C727.2,677.6 727.7,671.3 728.9,665.8 C730.2,660.3 731.5,655.2 734,650.6Z" fill="none" stroke="#4a35a0" stroke-width="2.5" opacity="0.8"/>
<rect x="738" y="678.8" width="30" height="7" fill="#000" transform="rotate(90 753 682.3)"/><rect x="738" y="678.8" width="30" height="7" fill="#000" transform="rotate(30 753 682.3)"/><rect x="738" y="678.8" width="30" height="7" fill="#000" transform="rotate(-30 753 682.3)"/>
<rect x="656.9" y="766.3" width="30" height="7" fill="#000" transform="rotate(90 671.9 769.8)"/><rect x="656.9" y="766.3" width="30" height="7" fill="#000" transform="rotate(30 671.9 769.8)"/><rect x="656.9" y="766.3" width="30" height="7" fill="#000" transform="rotate(-30 671.9 769.8)"/>
<rect x="882.6" y="773.9" width="30" height="7" fill="#000" transform="rotate(90 897.6 777.4)"/><rect x="882.6" y="773.9" width="30" height="7" fill="#000" transform="rotate(30 897.6 777.4)"/><rect x="882.6" y="773.9" width="30" height="7" fill="#000" transform="rotate(-30 897.6 777.4)"/>
<rect x="726.6" y="862.7" width="30" height="7" fill="#000" transform="rotate(90 741.6 866.2)"/><rect x="726.6" y="862.7" width="30" height="7" fill="#000" transform="rotate(30 741.6 866.2)"/><rect x="726.6" y="862.7" width="30" height="7" fill="#000" transform="rotate(-30 741.6 866.2)"/>
<g clip-path="url(#clipev)">
<rect x="78" y="1076" width="641" height="532" fill="#beb0e4"/>
<rect x="78" y="1076" width="641" height="532" filter="url(#nzC)"/>
<rect x="78" y="1076" width="641" height="532" filter="url(#nzD)"/>
<ellipse cx="531.6" cy="1299.9" rx="69.2" ry="52.9" fill="#5a48a8" opacity="0.2"/>
<ellipse cx="531.6" cy="1299.9" rx="69.2" ry="52.9" fill="none" stroke="#3a2c80" stroke-width="1.3" opacity="0.45"/>
<ellipse cx="256.8" cy="1232.7" rx="32.6" ry="32.6" fill="#5a48a8" opacity="0.2"/>
<ellipse cx="256.8" cy="1232.7" rx="32.6" ry="32.6" fill="none" stroke="#3a2c80" stroke-width="1.3" opacity="0.45"/>
<ellipse cx="173.3" cy="1295.8" rx="32.6" ry="32.6" fill="#5a48a8" opacity="0.2"/>
<ellipse cx="173.3" cy="1295.8" rx="32.6" ry="32.6" fill="none" stroke="#3a2c80" stroke-width="1.3" opacity="0.45"/>
<ellipse cx="144.8" cy="1202.2" rx="24.4" ry="24.4" fill="#5a48a8" opacity="0.2"/>
<ellipse cx="144.8" cy="1202.2" rx="24.4" ry="24.4" fill="none" stroke="#3a2c80" stroke-width="1.3" opacity="0.45"/>
<ellipse cx="136.6" cy="1255.1" rx="22.4" ry="22.4" fill="#5a48a8" opacity="0.2"/>
<ellipse cx="136.6" cy="1255.1" rx="22.4" ry="22.4" fill="none" stroke="#3a2c80" stroke-width="1.3" opacity="0.45"/>
<ellipse cx="458.3" cy="1507.6" rx="36.6" ry="28.5" fill="#5a48a8" opacity="0.2"/>
<ellipse cx="458.3" cy="1507.6" rx="36.6" ry="28.5" fill="none" stroke="#3a2c80" stroke-width="1.3" opacity="0.45"/>
<ellipse cx="507.2" cy="1438.3" rx="28.5" ry="24.4" fill="#5a48a8" opacity="0.2"/>
<ellipse cx="507.2" cy="1438.3" rx="28.5" ry="24.4" fill="none" stroke="#3a2c80" stroke-width="1.3" opacity="0.45"/>
<ellipse cx="254.7" cy="1438.3" rx="36.6" ry="28.5" fill="#5a48a8" opacity="0.2"/>
<ellipse cx="254.7" cy="1438.3" rx="36.6" ry="28.5" fill="none" stroke="#3a2c80" stroke-width="1.3" opacity="0.45"/>
<path d="M428,1247 C429,1241.3 444.7,1243.5 452,1244 C459.3,1244.5 467.7,1243.2 472,1250 C476.3,1256.8 475.5,1271.7 478,1285 C480.5,1298.3 485.8,1317.2 487,1330 C488.2,1342.8 487.5,1358.7 485,1362 C482.5,1365.3 476.5,1358.7 472,1350 C467.5,1341.3 462.3,1322 458,1310 C453.7,1298 451,1288.5 446,1278 C441,1267.5 427,1252.7 428,1247Z" fill="#f8f6fc" opacity="0.92"/>
<circle cx="195.7" cy="1135" r="30.5" fill="#5c48aa" opacity="0.3"/>
<circle cx="195.7" cy="1135" r="29.5" fill="none" stroke="#3a2c80" stroke-width="1.6" opacity="0.45"/>
<ellipse cx="195.7" cy="1135" rx="18.3" ry="20.3" fill="#f2eef8" opacity="0.85"/>
<ellipse cx="195.7" cy="1135" rx="16.3" ry="18.3" fill="#d9c6e4" opacity="1"/>
<circle cx="289.4" cy="1135" r="22.4" fill="#5c48aa" opacity="0.3"/>
<circle cx="289.4" cy="1135" r="21.4" fill="none" stroke="#3a2c80" stroke-width="1.6" opacity="0.45"/>
<ellipse cx="289.4" cy="1135" rx="16.3" ry="12.2" fill="#f2eef8" opacity="0.85"/>
<ellipse cx="289.4" cy="1135" rx="14.3" ry="10.2" fill="#d9c6e4" opacity="1"/>
<circle cx="258.8" cy="1171.6" r="22.4" fill="#5c48aa" opacity="0.3"/>
<circle cx="258.8" cy="1171.6" r="21.4" fill="none" stroke="#3a2c80" stroke-width="1.6" opacity="0.45"/>
<ellipse cx="258.8" cy="1171.6" rx="12.2" ry="18.3" fill="#f2eef8" opacity="0.85"/>
<ellipse cx="258.8" cy="1171.6" rx="10.2" ry="16.3" fill="#d9c6e4" opacity="1"/>
<circle cx="309.7" cy="1185.9" r="28.5" fill="#5c48aa" opacity="0.3"/>
<circle cx="309.7" cy="1185.9" r="27.5" fill="none" stroke="#3a2c80" stroke-width="1.6" opacity="0.45"/>
<ellipse cx="309.7" cy="1185.9" rx="18.3" ry="18.3" fill="#f2eef8" opacity="0.85"/>
<ellipse cx="309.7" cy="1185.9" rx="16.3" ry="16.3" fill="#d9c6e4" opacity="1"/>
<circle cx="193.7" cy="1232.7" r="32.6" fill="#5c48aa" opacity="0.3"/>
<circle cx="193.7" cy="1232.7" r="31.6" fill="none" stroke="#3a2c80" stroke-width="1.6" opacity="0.45"/>
<ellipse cx="193.7" cy="1232.7" rx="20.4" ry="22.4" fill="#faf8fc" opacity="0.92"/>
<ellipse cx="195.7" cy="1232.7" rx="11" ry="11" fill="#f2eef8" opacity="0.85"/>
<ellipse cx="195.7" cy="1232.7" rx="9" ry="9" fill="#d9c6e4" opacity="1"/>
<circle cx="254.7" cy="1310.1" r="44.8" fill="#5c48aa" opacity="0.3"/>
<circle cx="254.7" cy="1310.1" r="43.8" fill="none" stroke="#3a2c80" stroke-width="1.6" opacity="0.45"/>
<ellipse cx="271" cy="1320.3" rx="18.3" ry="14.3" fill="#faf8fc" opacity="0.92"/>
<ellipse cx="254.7" cy="1310.1" rx="14.2" ry="14.2" fill="#f2eef8" opacity="0.85"/>
<ellipse cx="254.7" cy="1310.1" rx="12.2" ry="12.2" fill="#d9c6e4" opacity="1"/>
<circle cx="321.9" cy="1269.4" r="28.5" fill="#5c48aa" opacity="0.3"/>
<circle cx="321.9" cy="1269.4" r="27.5" fill="none" stroke="#3a2c80" stroke-width="1.6" opacity="0.45"/>
<ellipse cx="321.9" cy="1269.4" rx="16.3" ry="20.3" fill="#f2eef8" opacity="0.85"/>
<ellipse cx="321.9" cy="1269.4" rx="14.3" ry="18.3" fill="#d9c6e4" opacity="1"/>
<circle cx="362.7" cy="1291.8" r="22.4" fill="#5c48aa" opacity="0.3"/>
<circle cx="362.7" cy="1291.8" r="21.4" fill="none" stroke="#3a2c80" stroke-width="1.6" opacity="0.45"/>
<ellipse cx="362.7" cy="1291.8" rx="14.2" ry="14.2" fill="#f2eef8" opacity="0.85"/>
<ellipse cx="362.7" cy="1291.8" rx="12.2" ry="12.2" fill="#d9c6e4" opacity="1"/>
<circle cx="399.3" cy="1312.1" r="26.5" fill="#5c48aa" opacity="0.3"/>
<circle cx="399.3" cy="1312.1" r="25.5" fill="none" stroke="#3a2c80" stroke-width="1.6" opacity="0.45"/>
<ellipse cx="399.3" cy="1312.1" rx="16.3" ry="16.3" fill="#f2eef8" opacity="0.85"/>
<ellipse cx="399.3" cy="1312.1" rx="14.3" ry="14.3" fill="#d9c6e4" opacity="1"/>
<circle cx="175.3" cy="1361" r="24.4" fill="#5c48aa" opacity="0.3"/>
<circle cx="175.3" cy="1361" r="23.4" fill="none" stroke="#3a2c80" stroke-width="1.6" opacity="0.45"/>
<ellipse cx="175.3" cy="1361" rx="14.2" ry="16.3" fill="#f2eef8" opacity="0.85"/>
<ellipse cx="175.3" cy="1361" rx="12.2" ry="14.3" fill="#d9c6e4" opacity="1"/>
<circle cx="214" cy="1344.7" r="14.3" fill="#5c48aa" opacity="0.3"/>
<circle cx="214" cy="1344.7" r="13.3" fill="none" stroke="#3a2c80" stroke-width="1.6" opacity="0.45"/>
<ellipse cx="214" cy="1344.7" rx="6.1" ry="8.1" fill="#faf8fc" opacity="0.92"/>
<circle cx="262.9" cy="1387.4" r="24.4" fill="#5c48aa" opacity="0.3"/>
<circle cx="262.9" cy="1387.4" r="23.4" fill="none" stroke="#3a2c80" stroke-width="1.6" opacity="0.45"/>
<ellipse cx="262.9" cy="1387.4" rx="14.3" ry="14.3" fill="#faf8fc" opacity="0.92"/>
<circle cx="366.7" cy="1387.4" r="34.6" fill="#5c48aa" opacity="0.3"/>
<circle cx="366.7" cy="1387.4" r="33.6" fill="none" stroke="#3a2c80" stroke-width="1.6" opacity="0.45"/>
<ellipse cx="362.7" cy="1391.5" rx="22.4" ry="24.4" fill="#faf8fc" opacity="0.92"/>
<ellipse cx="366.7" cy="1387.4" rx="14.2" ry="15" fill="#f2eef8" opacity="0.85"/>
<ellipse cx="366.7" cy="1387.4" rx="12.2" ry="13" fill="#d9c6e4" opacity="1"/>
<circle cx="201.8" cy="1416" r="24.4" fill="#5c48aa" opacity="0.3"/>
<circle cx="201.8" cy="1416" r="23.4" fill="none" stroke="#3a2c80" stroke-width="1.6" opacity="0.45"/>
<ellipse cx="201.8" cy="1416" rx="14.2" ry="14.2" fill="#f2eef8" opacity="0.85"/>
<ellipse cx="201.8" cy="1416" rx="12.2" ry="12.2" fill="#d9c6e4" opacity="1"/>
<circle cx="301.6" cy="1436.3" r="18.3" fill="#5c48aa" opacity="0.3"/>
<circle cx="301.6" cy="1436.3" r="17.3" fill="none" stroke="#3a2c80" stroke-width="1.6" opacity="0.45"/>
<ellipse cx="301.6" cy="1436.3" rx="9" ry="12.2" fill="#faf8fc" opacity="0.92"/>
<circle cx="431.9" cy="1444.5" r="38.7" fill="#5c48aa" opacity="0.3"/>
<circle cx="431.9" cy="1444.5" r="37.7" fill="none" stroke="#3a2c80" stroke-width="1.6" opacity="0.45"/>
<ellipse cx="431.9" cy="1442.4" rx="18.3" ry="20.4" fill="#faf8fc" opacity="0.92"/>
<ellipse cx="431.9" cy="1448.5" rx="12.2" ry="12.2" fill="#f2eef8" opacity="0.85"/>
<ellipse cx="431.9" cy="1448.5" rx="10.2" ry="10.2" fill="#d9c6e4" opacity="1"/>
<circle cx="342.3" cy="1473" r="24.4" fill="#5c48aa" opacity="0.3"/>
<circle cx="342.3" cy="1473" r="23.4" fill="none" stroke="#3a2c80" stroke-width="1.6" opacity="0.45"/>
<ellipse cx="342.3" cy="1473" rx="16.3" ry="16.3" fill="#f2eef8" opacity="0.85"/>
<ellipse cx="342.3" cy="1473" rx="14.3" ry="14.3" fill="#d9c6e4" opacity="1"/>
<circle cx="287.3" cy="1491.3" r="24.4" fill="#5c48aa" opacity="0.3"/>
<circle cx="287.3" cy="1491.3" r="23.4" fill="none" stroke="#3a2c80" stroke-width="1.6" opacity="0.45"/>
<ellipse cx="287.3" cy="1491.3" rx="16.3" ry="16.3" fill="#f2eef8" opacity="0.85"/>
<ellipse cx="287.3" cy="1491.3" rx="14.3" ry="14.3" fill="#d9c6e4" opacity="1"/>
<circle cx="315.8" cy="1530" r="24.4" fill="#5c48aa" opacity="0.3"/>
<circle cx="315.8" cy="1530" r="23.4" fill="none" stroke="#3a2c80" stroke-width="1.6" opacity="0.45"/>
<ellipse cx="315.8" cy="1530" rx="16.3" ry="16.3" fill="#f2eef8" opacity="0.85"/>
<ellipse cx="315.8" cy="1530" rx="14.3" ry="14.3" fill="#d9c6e4" opacity="1"/>
<circle cx="358.6" cy="1564.6" r="24.4" fill="#5c48aa" opacity="0.3"/>
<circle cx="358.6" cy="1564.6" r="23.4" fill="none" stroke="#3a2c80" stroke-width="1.6" opacity="0.45"/>
<ellipse cx="358.6" cy="1564.6" rx="16.3" ry="16.3" fill="#f2eef8" opacity="0.85"/>
<ellipse cx="358.6" cy="1564.6" rx="14.3" ry="14.3" fill="#d9c6e4" opacity="1"/>
<circle cx="462.4" cy="1574.8" r="24.4" fill="#5c48aa" opacity="0.3"/>
<circle cx="462.4" cy="1574.8" r="23.4" fill="none" stroke="#3a2c80" stroke-width="1.6" opacity="0.45"/>
<ellipse cx="462.4" cy="1574.8" rx="16.3" ry="14.2" fill="#f2eef8" opacity="0.85"/>
<ellipse cx="462.4" cy="1574.8" rx="14.3" ry="12.2" fill="#d9c6e4" opacity="1"/>
<circle cx="517.4" cy="1560.5" r="22.4" fill="#5c48aa" opacity="0.3"/>
<circle cx="517.4" cy="1560.5" r="21.4" fill="none" stroke="#3a2c80" stroke-width="1.6" opacity="0.45"/>
<ellipse cx="517.4" cy="1560.5" rx="16.3" ry="14.2" fill="#f2eef8" opacity="0.85"/>
<ellipse cx="517.4" cy="1560.5" rx="14.3" ry="12.2" fill="#d9c6e4" opacity="1"/>
<circle cx="550" cy="1503.5" r="28.5" fill="#5c48aa" opacity="0.3"/>
<circle cx="550" cy="1503.5" r="27.5" fill="none" stroke="#3a2c80" stroke-width="1.6" opacity="0.45"/>
<ellipse cx="550" cy="1503.5" rx="16.3" ry="16.3" fill="#f2eef8" opacity="0.85"/>
<ellipse cx="550" cy="1503.5" rx="14.3" ry="14.3" fill="#d9c6e4" opacity="1"/>
<circle cx="592.7" cy="1444.5" r="22.4" fill="#5c48aa" opacity="0.3"/>
<circle cx="592.7" cy="1444.5" r="21.4" fill="none" stroke="#3a2c80" stroke-width="1.6" opacity="0.45"/>
<ellipse cx="592.7" cy="1444.5" rx="16.3" ry="14.2" fill="#f2eef8" opacity="0.85"/>
<ellipse cx="592.7" cy="1444.5" rx="14.3" ry="12.2" fill="#d9c6e4" opacity="1"/>
<circle cx="637.5" cy="1450.6" r="22.4" fill="#5c48aa" opacity="0.3"/>
<circle cx="637.5" cy="1450.6" r="21.4" fill="none" stroke="#3a2c80" stroke-width="1.6" opacity="0.45"/>
<ellipse cx="637.5" cy="1450.6" rx="16.3" ry="14.2" fill="#f2eef8" opacity="0.85"/>
<ellipse cx="637.5" cy="1450.6" rx="14.3" ry="12.2" fill="#d9c6e4" opacity="1"/>
<circle cx="615.1" cy="1381.3" r="24.4" fill="#5c48aa" opacity="0.3"/>
<circle cx="615.1" cy="1381.3" r="23.4" fill="none" stroke="#3a2c80" stroke-width="1.6" opacity="0.45"/>
<ellipse cx="615.1" cy="1381.3" rx="14.2" ry="16.3" fill="#f2eef8" opacity="0.85"/>
<ellipse cx="615.1" cy="1381.3" rx="12.2" ry="14.3" fill="#d9c6e4" opacity="1"/>
<circle cx="670.1" cy="1393.6" r="28.5" fill="#5c48aa" opacity="0.3"/>
<circle cx="670.1" cy="1393.6" r="27.5" fill="none" stroke="#3a2c80" stroke-width="1.6" opacity="0.45"/>
<ellipse cx="670.1" cy="1393.6" rx="16.3" ry="20.3" fill="#f2eef8" opacity="0.85"/>
<ellipse cx="670.1" cy="1393.6" rx="14.3" ry="18.3" fill="#d9c6e4" opacity="1"/>
<circle cx="647.7" cy="1324.3" r="28.5" fill="#5c48aa" opacity="0.3"/>
<circle cx="647.7" cy="1324.3" r="27.5" fill="none" stroke="#3a2c80" stroke-width="1.6" opacity="0.45"/>
<ellipse cx="647.7" cy="1324.3" rx="16.3" ry="16.3" fill="#f2eef8" opacity="0.85"/>
<ellipse cx="647.7" cy="1324.3" rx="14.3" ry="14.3" fill="#d9c6e4" opacity="1"/>
<circle cx="645.7" cy="1356.9" r="10.2" fill="#5c48aa" opacity="0.3"/>
<circle cx="645.7" cy="1356.9" r="9.2" fill="none" stroke="#3a2c80" stroke-width="1.6" opacity="0.45"/>
<ellipse cx="645.7" cy="1356.9" rx="10.2" ry="7.3" fill="#faf8fc" opacity="0.92"/>
<circle cx="580.5" cy="1536.1" r="8.1" fill="#5c48aa" opacity="0.3"/>
<circle cx="580.5" cy="1536.1" r="7.1" fill="none" stroke="#3a2c80" stroke-width="1.6" opacity="0.45"/>
<ellipse cx="580.5" cy="1536.1" rx="7.3" ry="7.3" fill="#faf8fc" opacity="0.92"/>
<circle cx="136.6" cy="1181.8" r="16.3" fill="#5c48aa" opacity="0.3"/>
<circle cx="136.6" cy="1181.8" r="15.3" fill="none" stroke="#3a2c80" stroke-width="1.6" opacity="0.45"/>
<circle cx="124.4" cy="1234.7" r="16.3" fill="#5c48aa" opacity="0.3"/>
<circle cx="124.4" cy="1234.7" r="15.3" fill="none" stroke="#3a2c80" stroke-width="1.6" opacity="0.45"/>
<ellipse cx="474.6" cy="1385.4" rx="10.2" ry="16.3" fill="#4a3894" opacity="0.6"/>
<ellipse cx="234.4" cy="1202.2" rx="4.9" ry="16.3" fill="#fbf8fd" opacity="0.85"/>
<ellipse cx="234.4" cy="1251" rx="4.1" ry="12.2" fill="#fbf8fd" opacity="0.85"/>
<ellipse cx="283.2" cy="1332.5" rx="10.2" ry="6.1" fill="#fbf8fd" opacity="0.85"/>
<ellipse cx="645.7" cy="1356.9" rx="9" ry="6.1" fill="#fbf8fd" opacity="0.85"/>
</g>
<path d="M112.2,1173.7 C114.9,1168.6 119,1163.1 124.4,1159.4 C129.9,1155.7 138.7,1154.3 144.8,1151.3 C150.9,1148.2 157,1146.2 161.1,1141.1 C165.2,1136 165.2,1126.5 169.2,1120.7 C173.3,1115 179.4,1110.2 185.5,1106.5 C191.6,1102.7 198.4,1100.4 205.9,1098.3 C213.3,1096.3 220.8,1094.3 230.3,1094.3 C239.8,1094.3 252.7,1095.9 262.9,1098.3 C273.1,1100.7 282.6,1104.8 291.4,1108.5 C300.2,1112.2 309,1116.6 315.8,1120.7 C322.6,1124.8 326.7,1128.2 332.1,1132.9 C337.5,1137.7 343.7,1142.4 348.4,1149.2 C353.2,1156 355.9,1165.5 360.6,1173.7 C365.4,1181.8 372.8,1192 376.9,1198.1 C381,1204.2 382.3,1204.2 385.1,1210.3 C387.8,1216.4 389.1,1228 393.2,1234.7 C397.3,1241.5 404.1,1246.3 409.5,1251 C414.9,1255.8 421,1259.9 425.8,1263.2 C430.5,1266.6 433.2,1270.7 438,1271.4 C442.7,1272.1 449.5,1269.4 454.3,1267.3 C459,1265.3 461.7,1261.9 466.5,1259.2 C471.2,1256.5 476,1253.1 482.8,1251 C489.6,1249 498.4,1247.6 507.2,1247 C516,1246.3 526.9,1246.3 535.7,1247 C544.5,1247.6 552.7,1249 560.2,1251 C567.6,1253.1 573.7,1256.5 580.5,1259.2 C587.3,1261.9 595.4,1263.2 600.9,1267.3 C606.3,1271.4 608.3,1280.2 613.1,1283.6 C617.8,1287 623.3,1286 629.4,1287.7 C635.5,1289.4 643.6,1290.4 649.7,1293.8 C655.8,1297.2 661.3,1302.3 666,1308 C670.8,1313.8 674.9,1320.3 678.2,1328.4 C681.6,1336.5 683.3,1348.1 686.4,1356.9 C689.4,1365.7 695.2,1373.2 696.6,1381.3 C697.9,1389.5 696.2,1399 694.5,1405.8 C692.8,1412.6 689.1,1417.3 686.4,1422.1 C683.7,1426.8 681,1428.8 678.2,1434.3 C675.5,1439.7 672.8,1448.5 670.1,1454.6 C667.4,1460.7 665.4,1466.2 662,1470.9 C658.6,1475.7 653.8,1478.4 649.7,1483.1 C645.7,1487.9 640.9,1494 637.5,1499.4 C634.1,1504.9 632.8,1510.3 629.4,1515.7 C626,1521.2 621.9,1526.6 617.2,1532 C612.4,1537.4 607,1542.9 600.9,1548.3 C594.8,1553.7 588,1559.8 580.5,1564.6 C573,1569.3 564.2,1573.4 556.1,1576.8 C547.9,1580.2 539.8,1582.6 531.6,1584.9 C523.5,1587.3 516,1589.4 507.2,1591.1 C498.4,1592.8 488.2,1594.8 478.7,1595.1 C469.2,1595.5 459.7,1594.4 450.2,1593.1 C440.7,1591.7 431.2,1589 421.7,1587 C412.2,1584.9 402,1581.9 393.2,1580.9 C384.4,1579.9 376.9,1581.6 368.8,1580.9 C360.6,1580.2 352.5,1579.5 344.3,1576.8 C336.2,1574.1 327.4,1569.3 319.9,1564.6 C312.4,1559.8 305,1554.4 299.5,1548.3 C294.1,1542.2 291.4,1534 287.3,1527.9 C283.2,1521.8 279.2,1517.8 275.1,1511.6 C271,1505.5 268.3,1497.4 262.9,1491.3 C257.5,1485.2 250,1480.4 242.5,1475 C235.1,1469.6 226.9,1462.8 218.1,1458.7 C209.3,1454.6 197.1,1454.6 189.6,1450.6 C182.1,1446.5 176.7,1440.4 173.3,1434.3 C169.9,1428.2 171.3,1421.4 169.2,1413.9 C167.2,1406.5 163.1,1396.9 161.1,1389.5 C159,1382 159.7,1377.3 157,1369.1 C154.3,1361 148.2,1348.8 144.8,1340.6 C141.4,1332.5 139.4,1327 136.6,1320.3 C133.9,1313.5 131.2,1307.4 128.5,1299.9 C125.8,1292.4 123.1,1284.3 120.4,1275.5 C117.6,1266.6 114.3,1256.5 112.2,1247 C110.2,1237.5 108.8,1228 108.1,1218.5 C107.5,1209 107.5,1197.4 108.1,1189.9 C108.8,1182.5 109.5,1178.7 112.2,1173.7Z" fill="none" stroke="#5e48a8" stroke-width="2.5" opacity="0.8"/>
<g clip-path="url(#clipea)">
<rect x="738" y="1076" width="657" height="532" fill="#beb2e4"/>
<rect x="738" y="1076" width="657" height="532" filter="url(#nzC)"/>
<rect x="738" y="1076" width="657" height="532" filter="url(#nzD)"/>
<ellipse cx="936.8" cy="1219.9" rx="61.2" ry="48.1" fill="#5a48a8" opacity="0.18"/>
<ellipse cx="936.8" cy="1219.9" rx="61.2" ry="48.1" fill="none" stroke="#3a2c80" stroke-width="1.3" opacity="0.45"/>
<ellipse cx="858.1" cy="1316.1" rx="56.8" ry="56.8" fill="#5a48a8" opacity="0.18"/>
<ellipse cx="858.1" cy="1316.1" rx="56.8" ry="56.8" fill="none" stroke="#3a2c80" stroke-width="1.3" opacity="0.45"/>
<ellipse cx="1076.7" cy="1394.8" rx="56.8" ry="100.6" fill="#5a48a8" opacity="0.18"/>
<ellipse cx="1076.7" cy="1394.8" rx="56.8" ry="100.6" fill="none" stroke="#3a2c80" stroke-width="1.3" opacity="0.45"/>
<ellipse cx="1177.3" cy="1399.2" rx="43.7" ry="87.5" fill="#5a48a8" opacity="0.18"/>
<ellipse cx="1177.3" cy="1399.2" rx="43.7" ry="87.5" fill="none" stroke="#3a2c80" stroke-width="1.3" opacity="0.45"/>
<ellipse cx="1282.2" cy="1412.3" rx="96.2" ry="87.5" fill="#5a48a8" opacity="0.18"/>
<ellipse cx="1282.2" cy="1412.3" rx="96.2" ry="87.5" fill="none" stroke="#3a2c80" stroke-width="1.3" opacity="0.45"/>
<ellipse cx="1155.4" cy="1517.3" rx="35" ry="35" fill="#5a48a8" opacity="0.18"/>
<ellipse cx="1155.4" cy="1517.3" rx="35" ry="35" fill="none" stroke="#3a2c80" stroke-width="1.3" opacity="0.45"/>
<ellipse cx="792.5" cy="1180.6" rx="26.2" ry="26.2" fill="#5a48a8" opacity="0.18"/>
<ellipse cx="792.5" cy="1180.6" rx="26.2" ry="26.2" fill="none" stroke="#3a2c80" stroke-width="1.3" opacity="0.45"/>
<circle cx="818.7" cy="1141.2" r="24" fill="#5c48aa" opacity="0.3"/>
<circle cx="818.7" cy="1141.2" r="23" fill="none" stroke="#3a2c80" stroke-width="1.6" opacity="0.45"/>
<ellipse cx="818.7" cy="1141.2" rx="15.1" ry="15.1" fill="#f2eef8" opacity="0.85"/>
<ellipse cx="818.7" cy="1141.2" rx="13.1" ry="13.1" fill="#d9c6e4" opacity="1"/>
<circle cx="862.4" cy="1143.4" r="28.4" fill="#5c48aa" opacity="0.3"/>
<circle cx="862.4" cy="1143.4" r="27.4" fill="none" stroke="#3a2c80" stroke-width="1.6" opacity="0.45"/>
<ellipse cx="862.4" cy="1143.4" rx="17.3" ry="21.7" fill="#f2eef8" opacity="0.85"/>
<ellipse cx="862.4" cy="1143.4" rx="15.3" ry="19.7" fill="#d9c6e4" opacity="1"/>
<circle cx="958.6" cy="1132.5" r="32.8" fill="#5c48aa" opacity="0.3"/>
<circle cx="958.6" cy="1132.5" r="31.8" fill="none" stroke="#3a2c80" stroke-width="1.6" opacity="0.45"/>
<ellipse cx="958.6" cy="1132.5" rx="19.5" ry="26" fill="#f2eef8" opacity="0.85"/>
<ellipse cx="958.6" cy="1132.5" rx="17.5" ry="24" fill="#d9c6e4" opacity="1"/>
<circle cx="914.9" cy="1141.2" r="26.2" fill="#5c48aa" opacity="0.3"/>
<circle cx="914.9" cy="1141.2" r="25.2" fill="none" stroke="#3a2c80" stroke-width="1.6" opacity="0.45"/>
<circle cx="840.6" cy="1189.3" r="17.5" fill="#5c48aa" opacity="0.3"/>
<circle cx="840.6" cy="1189.3" r="16.5" fill="none" stroke="#3a2c80" stroke-width="1.6" opacity="0.45"/>
<circle cx="823.1" cy="1248.3" r="26.2" fill="#5c48aa" opacity="0.3"/>
<circle cx="823.1" cy="1248.3" r="25.2" fill="none" stroke="#3a2c80" stroke-width="1.6" opacity="0.45"/>
<ellipse cx="823.1" cy="1248.3" rx="15.1" ry="15.1" fill="#f2eef8" opacity="0.85"/>
<ellipse cx="823.1" cy="1248.3" rx="13.1" ry="13.1" fill="#d9c6e4" opacity="1"/>
<circle cx="779.4" cy="1311.7" r="30.6" fill="#5c48aa" opacity="0.3"/>
<circle cx="779.4" cy="1311.7" r="29.6" fill="none" stroke="#3a2c80" stroke-width="1.6" opacity="0.45"/>
<ellipse cx="779.4" cy="1311.7" rx="15.1" ry="19.5" fill="#f2eef8" opacity="0.85"/>
<ellipse cx="779.4" cy="1311.7" rx="13.1" ry="17.5" fill="#d9c6e4" opacity="1"/>
<circle cx="939" cy="1322.7" r="37.2" fill="#5c48aa" opacity="0.3"/>
<circle cx="939" cy="1322.7" r="36.2" fill="none" stroke="#3a2c80" stroke-width="1.6" opacity="0.45"/>
<ellipse cx="939" cy="1322.7" rx="21.9" ry="21.9" fill="#faf8fc" opacity="0.92"/>
<ellipse cx="939" cy="1322.7" rx="12.9" ry="12.9" fill="#f2eef8" opacity="0.85"/>
<ellipse cx="939" cy="1322.7" rx="10.9" ry="10.9" fill="#d9c6e4" opacity="1"/>
<circle cx="1015.5" cy="1342.4" r="32.8" fill="#5c48aa" opacity="0.3"/>
<circle cx="1015.5" cy="1342.4" r="31.8" fill="none" stroke="#3a2c80" stroke-width="1.6" opacity="0.45"/>
<ellipse cx="1015.5" cy="1342.4" rx="17.5" ry="21.9" fill="#faf8fc" opacity="0.92"/>
<circle cx="1111.7" cy="1283.3" r="32.8" fill="#5c48aa" opacity="0.3"/>
<circle cx="1111.7" cy="1283.3" r="31.8" fill="none" stroke="#3a2c80" stroke-width="1.6" opacity="0.45"/>
<ellipse cx="1111.7" cy="1283.3" rx="21.9" ry="18.4" fill="#faf8fc" opacity="0.92"/>
<ellipse cx="1111.7" cy="1283.3" rx="17.3" ry="15.1" fill="#f2eef8" opacity="0.85"/>
<ellipse cx="1111.7" cy="1283.3" rx="15.3" ry="13.1" fill="#d9c6e4" opacity="1"/>
<circle cx="1133.5" cy="1206.8" r="19.7" fill="#5c48aa" opacity="0.3"/>
<circle cx="1133.5" cy="1206.8" r="18.7" fill="none" stroke="#3a2c80" stroke-width="1.6" opacity="0.45"/>
<ellipse cx="1133.5" cy="1206.8" rx="12.9" ry="12.9" fill="#f2eef8" opacity="0.85"/>
<ellipse cx="1133.5" cy="1206.8" rx="10.9" ry="10.9" fill="#d9c6e4" opacity="1"/>
<circle cx="1137.9" cy="1246.2" r="19.7" fill="#5c48aa" opacity="0.3"/>
<circle cx="1137.9" cy="1246.2" r="18.7" fill="none" stroke="#3a2c80" stroke-width="1.6" opacity="0.45"/>
<ellipse cx="1137.9" cy="1246.2" rx="12.9" ry="12.9" fill="#f2eef8" opacity="0.85"/>
<ellipse cx="1137.9" cy="1246.2" rx="10.9" ry="10.9" fill="#d9c6e4" opacity="1"/>
<circle cx="1225.4" cy="1318.3" r="48.1" fill="#5c48aa" opacity="0.3"/>
<circle cx="1225.4" cy="1318.3" r="47.1" fill="none" stroke="#3a2c80" stroke-width="1.6" opacity="0.45"/>
<ellipse cx="1225.4" cy="1318.3" rx="30.6" ry="21.9" fill="#faf8fc" opacity="0.92"/>
<ellipse cx="1225.4" cy="1318.3" rx="12.9" ry="12.9" fill="#f2eef8" opacity="0.85"/>
<ellipse cx="1225.4" cy="1318.3" rx="10.9" ry="10.9" fill="#d9c6e4" opacity="1"/>
<circle cx="816.5" cy="1381.7" r="28.4" fill="#5c48aa" opacity="0.3"/>
<circle cx="816.5" cy="1381.7" r="27.4" fill="none" stroke="#3a2c80" stroke-width="1.6" opacity="0.45"/>
<ellipse cx="816.5" cy="1381.7" rx="15.1" ry="15.1" fill="#f2eef8" opacity="0.85"/>
<ellipse cx="816.5" cy="1381.7" rx="13.1" ry="13.1" fill="#d9c6e4" opacity="1"/>
<circle cx="958.6" cy="1397" r="35" fill="#5c48aa" opacity="0.3"/>
<circle cx="958.6" cy="1397" r="34" fill="none" stroke="#3a2c80" stroke-width="1.6" opacity="0.45"/>
<ellipse cx="958.6" cy="1397" rx="21.9" ry="19.7" fill="#faf8fc" opacity="0.92"/>
<ellipse cx="958.6" cy="1397" rx="17.3" ry="17.3" fill="#f2eef8" opacity="0.85"/>
<ellipse cx="958.6" cy="1397" rx="15.3" ry="15.3" fill="#d9c6e4" opacity="1"/>
<circle cx="879.9" cy="1434.2" r="26.2" fill="#5c48aa" opacity="0.3"/>
<circle cx="879.9" cy="1434.2" r="25.2" fill="none" stroke="#3a2c80" stroke-width="1.6" opacity="0.45"/>
<ellipse cx="879.9" cy="1434.2" rx="15.1" ry="19.5" fill="#f2eef8" opacity="0.85"/>
<ellipse cx="879.9" cy="1434.2" rx="13.1" ry="17.5" fill="#d9c6e4" opacity="1"/>
<circle cx="923.6" cy="1425.4" r="19.7" fill="#5c48aa" opacity="0.3"/>
<circle cx="923.6" cy="1425.4" r="18.7" fill="none" stroke="#3a2c80" stroke-width="1.6" opacity="0.45"/>
<ellipse cx="923.6" cy="1425.4" rx="10.9" ry="10.9" fill="#faf8fc" opacity="0.92"/>
<circle cx="932.4" cy="1475.7" r="26.2" fill="#5c48aa" opacity="0.3"/>
<circle cx="932.4" cy="1475.7" r="25.2" fill="none" stroke="#3a2c80" stroke-width="1.6" opacity="0.45"/>
<ellipse cx="932.4" cy="1475.7" rx="17.3" ry="12.9" fill="#f2eef8" opacity="0.85"/>
<ellipse cx="932.4" cy="1475.7" rx="15.3" ry="10.9" fill="#d9c6e4" opacity="1"/>
<circle cx="989.2" cy="1471.3" r="35" fill="#5c48aa" opacity="0.3"/>
<circle cx="989.2" cy="1471.3" r="34" fill="none" stroke="#3a2c80" stroke-width="1.6" opacity="0.45"/>
<ellipse cx="989.2" cy="1471.3" rx="24" ry="21.9" fill="#faf8fc" opacity="0.92"/>
<ellipse cx="989.2" cy="1471.3" rx="19.5" ry="19.5" fill="#f2eef8" opacity="0.85"/>
<ellipse cx="989.2" cy="1471.3" rx="17.5" ry="17.5" fill="#d9c6e4" opacity="1"/>
<circle cx="1061.4" cy="1510.7" r="32.8" fill="#5c48aa" opacity="0.3"/>
<circle cx="1061.4" cy="1510.7" r="31.8" fill="none" stroke="#3a2c80" stroke-width="1.6" opacity="0.45"/>
<ellipse cx="1061.4" cy="1510.7" rx="24" ry="24" fill="#faf8fc" opacity="0.92"/>
<ellipse cx="1061.4" cy="1510.7" rx="17.3" ry="17.3" fill="#f2eef8" opacity="0.85"/>
<ellipse cx="1061.4" cy="1510.7" rx="15.3" ry="15.3" fill="#d9c6e4" opacity="1"/>
<circle cx="1214.4" cy="1554.4" r="24" fill="#5c48aa" opacity="0.3"/>
<circle cx="1214.4" cy="1554.4" r="23" fill="none" stroke="#3a2c80" stroke-width="1.6" opacity="0.45"/>
<ellipse cx="1214.4" cy="1554.4" rx="15.1" ry="15.1" fill="#f2eef8" opacity="0.85"/>
<ellipse cx="1214.4" cy="1554.4" rx="13.1" ry="13.1" fill="#d9c6e4" opacity="1"/>
<circle cx="1089.8" cy="1565.4" r="21.9" fill="#5c48aa" opacity="0.3"/>
<circle cx="1089.8" cy="1565.4" r="20.9" fill="none" stroke="#3a2c80" stroke-width="1.6" opacity="0.45"/>
<ellipse cx="1089.8" cy="1565.4" rx="12.9" ry="12.9" fill="#f2eef8" opacity="0.85"/>
<ellipse cx="1089.8" cy="1565.4" rx="10.9" ry="10.9" fill="#d9c6e4" opacity="1"/>
<circle cx="1024.2" cy="1539.1" r="19.7" fill="#5c48aa" opacity="0.3"/>
<circle cx="1024.2" cy="1539.1" r="18.7" fill="none" stroke="#3a2c80" stroke-width="1.6" opacity="0.45"/>
<circle cx="1177.3" cy="1561" r="17.5" fill="#5c48aa" opacity="0.3"/>
<circle cx="1177.3" cy="1561" r="16.5" fill="none" stroke="#3a2c80" stroke-width="1.6" opacity="0.45"/>
<circle cx="1251.6" cy="1521.6" r="17.5" fill="#5c48aa" opacity="0.3"/>
<circle cx="1251.6" cy="1521.6" r="16.5" fill="none" stroke="#3a2c80" stroke-width="1.6" opacity="0.45"/>
<circle cx="1304.1" cy="1421.1" r="19.7" fill="#5c48aa" opacity="0.3"/>
<circle cx="1304.1" cy="1421.1" r="18.7" fill="none" stroke="#3a2c80" stroke-width="1.6" opacity="0.45"/>
<ellipse cx="1304.1" cy="1421.1" rx="12.9" ry="12.9" fill="#f2eef8" opacity="0.85"/>
<ellipse cx="1304.1" cy="1421.1" rx="10.9" ry="10.9" fill="#d9c6e4" opacity="1"/>
<ellipse cx="1181.6" cy="1219.9" rx="17.5" ry="6.6" fill="#d8b0dc" opacity="0.95" transform="rotate(30 1181.6 1219.9)"/>
<ellipse cx="1251.6" cy="1252.7" rx="19.7" ry="6.6" fill="#d8b0dc" opacity="0.95" transform="rotate(20 1251.6 1252.7)"/>
<ellipse cx="1264.7" cy="1425.4" rx="32.8" ry="21.9" fill="#fbf8fd" opacity="0.9"/>
<ellipse cx="1089.8" cy="1442.9" rx="13.1" ry="17.5" fill="#fbf8fd" opacity="0.9"/>
<ellipse cx="954.3" cy="1224.3" rx="15.3" ry="10.9" fill="#fbf8fd" opacity="0.9"/>
<ellipse cx="853.7" cy="1237.4" rx="8.7" ry="17.5" fill="#fbf8fd" opacity="0.9"/>
<ellipse cx="1046.1" cy="1263.6" rx="6.6" ry="26.2" fill="#fbf8fd" opacity="0.9"/>
<ellipse cx="1054.8" cy="1206.8" rx="6.6" ry="17.5" fill="#fbf8fd" opacity="0.9"/>
<ellipse cx="1155.4" cy="1473.5" rx="10.9" ry="8.7" fill="#fbf8fd" opacity="0.9"/>
<ellipse cx="849.3" cy="1342.4" rx="8.7" ry="8.7" fill="#fbf8fd" opacity="0.9"/>
<ellipse cx="1133.5" cy="1543.5" rx="70" ry="39.4" fill="#5a3aa0" opacity="0.3"/>
</g>
<path d="M753.1,1246.2 C756,1233 758.9,1222.8 761.9,1211.2 C764.8,1199.5 766.2,1186.4 770.6,1176.2 C775,1166 781.5,1158.7 788.1,1150 C794.7,1141.2 801.9,1131.7 810,1123.7 C818,1115.7 826.7,1107.3 836.2,1101.9 C845.7,1096.4 855.9,1093.1 866.8,1090.9 C877.7,1088.7 890.1,1087.7 901.8,1088.7 C913.4,1089.8 926.6,1094.6 936.8,1097.5 C947,1100.4 955.7,1101.1 963,1106.2 C970.3,1111.3 975.4,1120.1 980.5,1128.1 C985.6,1136.1 990,1146.3 993.6,1154.3 C997.3,1162.3 998,1169.6 1002.4,1176.2 C1006.7,1182.8 1014,1187.9 1019.8,1193.7 C1025.7,1199.5 1033,1212.6 1037.3,1211.2 C1041.7,1209.7 1043.2,1190 1046.1,1184.9 C1049,1179.8 1051.9,1179.8 1054.8,1180.6 C1057.7,1181.3 1060.7,1183.5 1063.6,1189.3 C1066.5,1195.1 1067.9,1214.1 1072.3,1215.5 C1076.7,1217 1082.5,1202.4 1089.8,1198.1 C1097.1,1193.7 1107.3,1190 1116,1189.3 C1124.8,1188.6 1133.5,1190.8 1142.3,1193.7 C1151,1196.6 1159.8,1203.2 1168.5,1206.8 C1177.3,1210.4 1186,1212.6 1194.7,1215.5 C1203.5,1218.5 1212.2,1221.4 1221,1224.3 C1229.7,1227.2 1237.7,1229.4 1247.2,1233 C1256.7,1236.7 1267.6,1241.1 1277.8,1246.2 C1288,1251.3 1299,1257.1 1308.4,1263.6 C1317.9,1270.2 1326.6,1277.5 1334.7,1285.5 C1342.7,1293.5 1350.7,1303 1356.5,1311.7 C1362.4,1320.5 1365.3,1328.5 1369.6,1338 C1374,1347.5 1379.8,1358.4 1382.8,1368.6 C1385.7,1378.8 1387.1,1389 1387.1,1399.2 C1387.1,1409.4 1385.7,1420.3 1382.8,1429.8 C1379.8,1439.3 1374.7,1448 1369.6,1456 C1364.5,1464.1 1359.4,1471.3 1352.2,1477.9 C1344.9,1484.5 1334.7,1490.3 1325.9,1495.4 C1317.2,1500.5 1308.4,1504.1 1299.7,1508.5 C1290.9,1512.9 1282.2,1518 1273.4,1521.6 C1264.7,1525.3 1256,1526.7 1247.2,1530.4 C1238.5,1534 1229,1538.4 1221,1543.5 C1213,1548.6 1207.1,1555.1 1199.1,1561 C1191.1,1566.8 1182.4,1573.4 1172.9,1578.5 C1163.4,1583.6 1152.5,1588.3 1142.3,1591.6 C1132.1,1594.9 1121.9,1597.4 1111.7,1598.1 C1101.5,1598.9 1092,1597.8 1081.1,1596 C1070.1,1594.1 1056.3,1590.9 1046.1,1587.2 C1035.9,1583.6 1027.9,1579.9 1019.8,1574.1 C1011.8,1568.3 1005.3,1558.8 998,1552.2 C990.7,1545.7 984.1,1539.8 976.1,1534.7 C968.1,1529.6 959.4,1526 949.9,1521.6 C940.4,1517.3 928.7,1512.9 919.3,1508.5 C909.8,1504.1 901.8,1501.2 893,1495.4 C884.3,1489.6 874.1,1480.8 866.8,1473.5 C859.5,1466.2 854.4,1459.7 849.3,1451.7 C844.2,1443.6 842,1432 836.2,1425.4 C830.4,1418.9 821.6,1417.4 814.3,1412.3 C807,1407.2 798.3,1402.1 792.5,1394.8 C786.6,1387.5 783.7,1376.6 779.4,1368.6 C775,1360.6 770.6,1354 766.2,1346.7 C761.9,1339.4 756.8,1334.3 753.1,1324.9 C749.5,1315.4 744.4,1303 744.4,1289.9 C744.4,1276.8 750.2,1259.3 753.1,1246.2Z" fill="none" stroke="#5e48a8" stroke-width="2.5" opacity="0.8"/>
<path d="M366.7,1411.9 L371.1,1433.6 L386.3,1422.2Z" fill="#ff1010"/>
<line x1="377.5" y1="1426.3" x2="391.2" y2="1444.5" stroke="#ff1010" stroke-width="5.5"/>
<path d="M1247.2,1342.4 L1250.7,1364.3 L1266.4,1353.5Z" fill="#ff1010"/>
<line x1="1257.4" y1="1357.2" x2="1271.3" y2="1377.3" stroke="#ff1010" stroke-width="5.5"/>
<path d="M1323.7,1447.3 L1327.9,1469 L1343.2,1457.8Z" fill="#ff1010"/>
<line x1="1334.4" y1="1461.8" x2="1347.8" y2="1480" stroke="#ff1010" stroke-width="5.5"/>
<path d="M1085.4,1521.6 L1089.6,1543.3 L1104.9,1532.1Z" fill="#ff1010"/>
<line x1="1096.1" y1="1536.1" x2="1109.5" y2="1554.4" stroke="#ff1010" stroke-width="5.5"/>
<rect x="75.3" y="607.3" width="494.3" height="395.3" fill="none" stroke="#000" stroke-width="2.8"/>
<rect x="584.5" y="606.9" width="493.5" height="394.7" fill="none" stroke="#000" stroke-width="2.8"/>
<rect x="77.6" y="1075" width="642.4" height="534.3" fill="none" stroke="#000" stroke-width="2.8"/>
<rect x="737.3" y="1075.7" width="658.7" height="532.7" fill="none" stroke="#000" stroke-width="2.8"/>
<line x1="502.7" y1="977.6" x2="546.7" y2="977.6" stroke="#000" stroke-width="6"/>
<line x1="1009" y1="980.5" x2="1054" y2="980.5" stroke="#000" stroke-width="6"/>
<line x1="593" y1="1575.5" x2="688" y2="1575.5" stroke="#000" stroke-width="6"/>
<line x1="1273.7" y1="1576.5" x2="1369.5" y2="1576.5" stroke="#000" stroke-width="6"/>
<text x="-2.16" y="641.5" font-size="54" font-weight="bold" fill="#000">d</text>
<text x="0.34" y="1077" font-size="54" font-weight="bold" fill="#000">e</text>
<text x="418.41" y="649.72" font-size="38.21" font-weight="bold" fill="#000">Vehicle</text>
<text x="921.34" y="646.12" font-size="38.36" font-weight="bold" fill="#000">Ab4B19</text>
<text x="560.01" y="1123.62" font-size="38.27" font-weight="bold" fill="#000">Vehicle</text>
<text x="1230.95" y="1123.32" font-size="38.17" font-weight="bold" fill="#000">Ab4B19</text>
<text x="-4.11" y="56" font-size="54" font-weight="bold" fill="#000">a</text>
<line x1="153.4" y1="93" x2="153.4" y2="396.3" stroke="#000" stroke-width="3" stroke-linecap="butt"/>
<line x1="144.4" y1="394.8" x2="153.4" y2="394.8" stroke="#000" stroke-width="3" stroke-linecap="butt"/>
<text x="122.38" y="406.88" font-size="35" font-weight="bold" fill="#000">0</text>
<line x1="144.4" y1="328.05" x2="153.4" y2="328.05" stroke="#000" stroke-width="3" stroke-linecap="butt"/>
<text x="102.95" y="340.12" font-size="35" font-weight="bold" fill="#000">20</text>
<line x1="144.4" y1="261.3" x2="153.4" y2="261.3" stroke="#000" stroke-width="3" stroke-linecap="butt"/>
<text x="102.95" y="273.38" font-size="35" font-weight="bold" fill="#000">40</text>
<line x1="144.4" y1="194.55" x2="153.4" y2="194.55" stroke="#000" stroke-width="3" stroke-linecap="butt"/>
<text x="102.95" y="206.62" font-size="35" font-weight="bold" fill="#000">60</text>
<line x1="144.4" y1="127.8" x2="153.4" y2="127.8" stroke="#000" stroke-width="3" stroke-linecap="butt"/>
<text x="102.95" y="139.88" font-size="35" font-weight="bold" fill="#000">80</text>
<line x1="144.5" y1="394.8" x2="452.8" y2="394.8" stroke="#000" stroke-width="3.2" stroke-linecap="butt"/>
<line x1="182.9" y1="394.8" x2="182.9" y2="403.8" stroke="#000" stroke-width="3.2" stroke-linecap="butt"/>
<line x1="242.5" y1="394.8" x2="242.5" y2="403.8" stroke="#000" stroke-width="3.2" stroke-linecap="butt"/>
<line x1="302.6" y1="394.8" x2="302.6" y2="403.8" stroke="#000" stroke-width="3.2" stroke-linecap="butt"/>
<line x1="362" y1="394.8" x2="362" y2="403.8" stroke="#000" stroke-width="3.2" stroke-linecap="butt"/>
<line x1="421.6" y1="394.8" x2="421.6" y2="403.8" stroke="#000" stroke-width="3.2" stroke-linecap="butt"/>
<path d="M163.45,394.8 V191.15 H202.35 V394.8" fill="none" stroke="#000" stroke-width="4.3"/>
<path d="M223.05,394.8 V181.15 H261.95 V394.8" fill="none" stroke="#a60be0" stroke-width="4.3"/>
<path d="M282.85,394.8 V184.75 H321.85 V394.8" fill="none" stroke="#ffa3a3" stroke-width="4.3"/>
<path d="M342.95,394.8 V172.65 H381.45 V394.8" fill="none" stroke="#ff4343" stroke-width="4.3"/>
<path d="M402.55,394.8 V184.75 H441.05 V394.8" fill="none" stroke="#a00000" stroke-width="4.3"/>
<circle cx="182.9" cy="153.7" r="6" fill="#000"/>
<circle cx="182.9" cy="171.8" r="6" fill="#000"/>
<circle cx="173.5" cy="199" r="6" fill="#000"/>
<circle cx="192.2" cy="203.4" r="6" fill="#000"/>
<circle cx="182.9" cy="224.1" r="6" fill="#000"/>
<rect x="237" y="130.4" width="12" height="12" fill="#a60be0"/>
<rect x="237" y="147.7" width="12" height="12" fill="#a60be0"/>
<rect x="224.5" y="188.6" width="12" height="12" fill="#a60be0"/>
<rect x="237" y="200.6" width="12" height="12" fill="#a60be0"/>
<rect x="247.8" y="199.4" width="12" height="12" fill="#a60be0"/>
<path d="M291,166.16 L297.9,177.56 L284.1,177.56Z" fill="#ffa3a3"/>
<path d="M301.9,167.36 L308.8,178.76 L295,178.76Z" fill="#ffa3a3"/>
<path d="M312.7,166.16 L319.6,177.56 L305.8,177.56Z" fill="#ffa3a3"/>
<path d="M311.5,188.96 L318.4,200.36 L304.6,200.36Z" fill="#ffa3a3"/>
<path d="M293.5,198.56 L300.4,209.96 L286.6,209.96Z" fill="#ffa3a3"/>
<path d="M362,134.14 L368.9,122.74 L355.1,122.74Z" fill="#ff4343"/>
<path d="M352.3,166.54 L359.2,155.14 L345.4,155.14Z" fill="#ff4343"/>
<path d="M371.6,176.14 L378.5,164.74 L364.7,164.74Z" fill="#ff4343"/>
<path d="M353.5,208.64 L360.4,197.24 L346.6,197.24Z" fill="#ff4343"/>
<path d="M371.6,205.04 L378.5,193.64 L364.7,193.64Z" fill="#ff4343"/>
<path d="M404,161.86 L411.44,169.3 L404,176.74 L396.56,169.3Z" fill="#a00000"/>
<path d="M431.6,153.06 L439.04,160.5 L431.6,167.94 L424.16,160.5Z" fill="#a00000"/>
<path d="M413.6,177.56 L421.04,185 L413.6,192.44 L406.16,185Z" fill="#a00000"/>
<path d="M430.4,179.96 L437.84,187.4 L430.4,194.84 L422.96,187.4Z" fill="#a00000"/>
<path d="M421.6,208.26 L429.04,215.7 L421.6,223.14 L414.16,215.7Z" fill="#a00000"/>
<line x1="182.9" y1="176.4" x2="182.9" y2="201.6" stroke="#000" stroke-width="4.2" stroke-linecap="butt"/>
<line x1="172.9" y1="178.5" x2="192.9" y2="178.5" stroke="#000" stroke-width="4.2" stroke-linecap="butt"/>
<line x1="172.9" y1="199.5" x2="192.9" y2="199.5" stroke="#000" stroke-width="4.2" stroke-linecap="butt"/>
<line x1="242.5" y1="162.9" x2="242.5" y2="196.7" stroke="#000" stroke-width="4.2" stroke-linecap="butt"/>
<line x1="232.5" y1="165" x2="252.5" y2="165" stroke="#000" stroke-width="4.2" stroke-linecap="butt"/>
<line x1="232.5" y1="194.6" x2="252.5" y2="194.6" stroke="#000" stroke-width="4.2" stroke-linecap="butt"/>
<line x1="302.6" y1="175.7" x2="302.6" y2="193.1" stroke="#000" stroke-width="4.2" stroke-linecap="butt"/>
<line x1="292.6" y1="177.8" x2="312.6" y2="177.8" stroke="#000" stroke-width="4.2" stroke-linecap="butt"/>
<line x1="292.6" y1="191" x2="312.6" y2="191" stroke="#000" stroke-width="4.2" stroke-linecap="butt"/>
<line x1="362" y1="156.4" x2="362" y2="187.1" stroke="#000" stroke-width="4.2" stroke-linecap="butt"/>
<line x1="352" y1="158.5" x2="372" y2="158.5" stroke="#000" stroke-width="4.2" stroke-linecap="butt"/>
<line x1="352" y1="185" x2="372" y2="185" stroke="#000" stroke-width="4.2" stroke-linecap="butt"/>
<line x1="421.6" y1="171.9" x2="421.6" y2="195" stroke="#000" stroke-width="4.2" stroke-linecap="butt"/>
<line x1="411.6" y1="174" x2="431.6" y2="174" stroke="#000" stroke-width="4.2" stroke-linecap="butt"/>
<line x1="411.6" y1="192.9" x2="431.6" y2="192.9" stroke="#000" stroke-width="4.2" stroke-linecap="butt"/>
<text x="289.87" y="105.73" font-size="37.05" font-weight="bold" fill="#000">Ab4B19</text>
<polyline points="282.7,123.5 282.7,113.6 437.4,113.6 437.4,123.5" fill="none" stroke="#000" stroke-width="3.6" stroke-linejoin="miter"/>
<text x="76.72" y="325.88" font-size="39.61" font-weight="bold" fill="#000" transform="rotate(-90 76.72 325.88)">GVBD(%)</text>
<text x="143.57" y="479.73" font-size="39" font-weight="bold" fill="#000" transform="rotate(-45 143.57 479.73)">Ctrl</text>
<text x="172.24" y="508.59" font-size="39" font-weight="bold" fill="#000" transform="rotate(-45 172.24 508.59)">BDNF</text>
<text x="223.56" y="518.08" font-size="39" font-weight="bold" fill="#000" transform="rotate(-45 223.56 518.08)">0.2nM</text>
<text x="283.16" y="518.08" font-size="39" font-weight="bold" fill="#000" transform="rotate(-45 283.16 518.08)">0.6nM</text>
<text x="344.21" y="515.42" font-size="39" font-weight="bold" fill="#000" transform="rotate(-45 344.21 515.42)">1.8nM</text>
<text x="479.49" y="49.5" font-size="54" font-weight="bold" fill="#000">b</text>
<line x1="650.6" y1="85.5" x2="650.6" y2="402.8" stroke="#000" stroke-width="3" stroke-linecap="butt"/>
<line x1="641.6" y1="401.3" x2="650.6" y2="401.3" stroke="#000" stroke-width="3" stroke-linecap="butt"/>
<text x="600.35" y="413.38" font-size="35" font-weight="bold" fill="#000">50</text>
<line x1="641.6" y1="322.6" x2="650.6" y2="322.6" stroke="#000" stroke-width="3" stroke-linecap="butt"/>
<text x="600.35" y="334.68" font-size="35" font-weight="bold" fill="#000">60</text>
<line x1="641.6" y1="243.9" x2="650.6" y2="243.9" stroke="#000" stroke-width="3" stroke-linecap="butt"/>
<text x="600.35" y="255.97" font-size="35" font-weight="bold" fill="#000">70</text>
<line x1="641.6" y1="165.2" x2="650.6" y2="165.2" stroke="#000" stroke-width="3" stroke-linecap="butt"/>
<text x="600.35" y="177.28" font-size="35" font-weight="bold" fill="#000">80</text>
<line x1="641.6" y1="86.5" x2="650.6" y2="86.5" stroke="#000" stroke-width="3" stroke-linecap="butt"/>
<text x="600.35" y="98.58" font-size="35" font-weight="bold" fill="#000">90</text>
<line x1="641.8" y1="401.3" x2="944.7" y2="401.3" stroke="#000" stroke-width="3.2" stroke-linecap="butt"/>
<line x1="679" y1="401.3" x2="679" y2="410.3" stroke="#000" stroke-width="3.2" stroke-linecap="butt"/>
<line x1="738" y1="401.3" x2="738" y2="410.3" stroke="#000" stroke-width="3.2" stroke-linecap="butt"/>
<line x1="796" y1="401.3" x2="796" y2="410.3" stroke="#000" stroke-width="3.2" stroke-linecap="butt"/>
<line x1="855" y1="401.3" x2="855" y2="410.3" stroke="#000" stroke-width="3.2" stroke-linecap="butt"/>
<line x1="914" y1="401.3" x2="914" y2="410.3" stroke="#000" stroke-width="3.2" stroke-linecap="butt"/>
<path d="M661.15,401.3 V302.45 H697.85 V401.3" fill="none" stroke="#000" stroke-width="4.3"/>
<path d="M719.15,401.3 V219.85 H756.85 V401.3" fill="none" stroke="#a60be0" stroke-width="4.3"/>
<path d="M778.15,401.3 V236.05 H814.85 V401.3" fill="none" stroke="#ffa3a3" stroke-width="4.3"/>
<path d="M836.75,401.3 V202.25 H873.85 V401.3" fill="none" stroke="#ff4343" stroke-width="4.3"/>
<path d="M895.15,401.3 V215.85 H932.85 V401.3" fill="none" stroke="#a00000" stroke-width="4.3"/>
<circle cx="679.3" cy="254.4" r="6" fill="#000"/>
<circle cx="670.8" cy="295.6" r="6" fill="#000"/>
<circle cx="696.9" cy="305.5" r="6" fill="#000"/>
<circle cx="688.5" cy="318.7" r="6" fill="#000"/>
<circle cx="670.8" cy="334.9" r="6" fill="#000"/>
<rect x="722.8" y="179.4" width="12" height="12" fill="#a60be0"/>
<rect x="743" y="173.9" width="12" height="12" fill="#a60be0"/>
<rect x="732" y="183" width="12" height="12" fill="#a60be0"/>
<rect x="742" y="256.5" width="12" height="12" fill="#a60be0"/>
<rect x="722.8" y="272" width="12" height="12" fill="#a60be0"/>
<path d="M787.6,207.96 L794.5,219.36 L780.7,219.36Z" fill="#ffa3a3"/>
<path d="M806,213.46 L812.9,224.86 L799.1,224.86Z" fill="#ffa3a3"/>
<path d="M796,228.16 L802.9,239.56 L789.1,239.56Z" fill="#ffa3a3"/>
<path d="M787.6,239.16 L794.5,250.56 L780.7,250.56Z" fill="#ffa3a3"/>
<path d="M806,242.86 L812.9,254.26 L799.1,254.26Z" fill="#ffa3a3"/>
<path d="M846.3,166.54 L853.2,155.14 L839.4,155.14Z" fill="#ff4343"/>
<path d="M864,173.84 L870.9,162.44 L857.1,162.44Z" fill="#ff4343"/>
<path d="M855,212.44 L861.9,201.04 L848.1,201.04Z" fill="#ff4343"/>
<path d="M855,265.64 L861.9,254.24 L848.1,254.24Z" fill="#ff4343"/>
<path d="M903.3,172.46 L910.74,179.9 L903.3,187.34 L895.86,179.9Z" fill="#a00000"/>
<path d="M914.3,181.56 L921.74,189 L914.3,196.44 L906.86,189Z" fill="#a00000"/>
<path d="M925.3,179.86 L932.74,187.3 L925.3,194.74 L917.86,187.3Z" fill="#a00000"/>
<path d="M914.3,241.56 L921.74,249 L914.3,256.44 L906.86,249Z" fill="#a00000"/>
<path d="M914.3,263.16 L921.74,270.6 L914.3,278.04 L906.86,270.6Z" fill="#a00000"/>
<line x1="679" y1="286.1" x2="679" y2="317.9" stroke="#000" stroke-width="4.2" stroke-linecap="butt"/>
<line x1="669" y1="288.2" x2="689" y2="288.2" stroke="#000" stroke-width="4.2" stroke-linecap="butt"/>
<line x1="669" y1="315.8" x2="689" y2="315.8" stroke="#000" stroke-width="4.2" stroke-linecap="butt"/>
<line x1="738" y1="195.4" x2="738" y2="242.6" stroke="#000" stroke-width="4.2" stroke-linecap="butt"/>
<line x1="728" y1="197.5" x2="748" y2="197.5" stroke="#000" stroke-width="4.2" stroke-linecap="butt"/>
<line x1="728" y1="240.5" x2="748" y2="240.5" stroke="#000" stroke-width="4.2" stroke-linecap="butt"/>
<line x1="796" y1="226.3" x2="796" y2="246.3" stroke="#000" stroke-width="4.2" stroke-linecap="butt"/>
<line x1="786" y1="228.4" x2="806" y2="228.4" stroke="#000" stroke-width="4.2" stroke-linecap="butt"/>
<line x1="786" y1="244.2" x2="806" y2="244.2" stroke="#000" stroke-width="4.2" stroke-linecap="butt"/>
<line x1="855" y1="180.7" x2="855" y2="221.3" stroke="#000" stroke-width="4.2" stroke-linecap="butt"/>
<line x1="845" y1="182.8" x2="865" y2="182.8" stroke="#000" stroke-width="4.2" stroke-linecap="butt"/>
<line x1="845" y1="219.2" x2="865" y2="219.2" stroke="#000" stroke-width="4.2" stroke-linecap="butt"/>
<line x1="914" y1="195.1" x2="914" y2="236" stroke="#000" stroke-width="4.2" stroke-linecap="butt"/>
<line x1="904" y1="197.2" x2="924" y2="197.2" stroke="#000" stroke-width="4.2" stroke-linecap="butt"/>
<line x1="904" y1="233.9" x2="924" y2="233.9" stroke="#000" stroke-width="4.2" stroke-linecap="butt"/>
<rect x="718.95" y="154.9" width="16.5" height="4.2" rx="1" fill="#000" transform="rotate(90 727.2 157)"/>
<rect x="718.95" y="154.9" width="16.5" height="4.2" rx="1" fill="#000" transform="rotate(30 727.2 157)"/>
<rect x="718.95" y="154.9" width="16.5" height="4.2" rx="1" fill="#000" transform="rotate(-30 727.2 157)"/>
<rect x="740.75" y="154.9" width="16.5" height="4.2" rx="1" fill="#000" transform="rotate(90 749 157)"/>
<rect x="740.75" y="154.9" width="16.5" height="4.2" rx="1" fill="#000" transform="rotate(30 749 157)"/>
<rect x="740.75" y="154.9" width="16.5" height="4.2" rx="1" fill="#000" transform="rotate(-30 749 157)"/>
<rect x="788.35" y="193.8" width="16.5" height="4.2" rx="1" fill="#000" transform="rotate(90 796.6 195.9)"/>
<rect x="788.35" y="193.8" width="16.5" height="4.2" rx="1" fill="#000" transform="rotate(30 796.6 195.9)"/>
<rect x="788.35" y="193.8" width="16.5" height="4.2" rx="1" fill="#000" transform="rotate(-30 796.6 195.9)"/>
<rect x="836.05" y="138.2" width="16.5" height="4.2" rx="1" fill="#000" transform="rotate(90 844.3 140.3)"/>
<rect x="836.05" y="138.2" width="16.5" height="4.2" rx="1" fill="#000" transform="rotate(30 844.3 140.3)"/>
<rect x="836.05" y="138.2" width="16.5" height="4.2" rx="1" fill="#000" transform="rotate(-30 844.3 140.3)"/>
<rect x="857.85" y="138.2" width="16.5" height="4.2" rx="1" fill="#000" transform="rotate(90 866.1 140.3)"/>
<rect x="857.85" y="138.2" width="16.5" height="4.2" rx="1" fill="#000" transform="rotate(30 866.1 140.3)"/>
<rect x="857.85" y="138.2" width="16.5" height="4.2" rx="1" fill="#000" transform="rotate(-30 866.1 140.3)"/>
<rect x="894.55" y="156.6" width="16.5" height="4.2" rx="1" fill="#000" transform="rotate(90 902.8 158.7)"/>
<rect x="894.55" y="156.6" width="16.5" height="4.2" rx="1" fill="#000" transform="rotate(30 902.8 158.7)"/>
<rect x="894.55" y="156.6" width="16.5" height="4.2" rx="1" fill="#000" transform="rotate(-30 902.8 158.7)"/>
<rect x="916.35" y="156.6" width="16.5" height="4.2" rx="1" fill="#000" transform="rotate(90 924.6 158.7)"/>
<rect x="916.35" y="156.6" width="16.5" height="4.2" rx="1" fill="#000" transform="rotate(30 924.6 158.7)"/>
<rect x="916.35" y="156.6" width="16.5" height="4.2" rx="1" fill="#000" transform="rotate(-30 924.6 158.7)"/>
<text x="664.95" y="138.9" font-size="31.55" font-weight="normal" fill="#000">p=0.0065</text>
<text x="735.14" y="103.6" font-size="31.67" font-weight="normal" fill="#000">p=0.0328</text>
<text x="805.13" y="68.2" font-size="31.83" font-weight="normal" fill="#000">p=0.0011</text>
<text x="878.25" y="121.8" font-size="31.53" font-weight="normal" fill="#000">p=0.0045</text>
<text x="800.09" y="27.64" font-size="36.26" font-weight="bold" fill="#000">Ab4B19</text>
<polyline points="786.4,46 786.4,36.5 938.3,36.5 938.3,46" fill="none" stroke="#000" stroke-width="3.4" stroke-linejoin="miter"/>
<text x="532.77" y="388.43" font-size="40.51" font-weight="bold" fill="#000" transform="rotate(-90 532.77 388.43)">First polar body</text>
<text x="578.68" y="362.65" font-size="41.36" font-weight="bold" fill="#000" transform="rotate(-90 578.68 362.65)">extrusion(%)</text>
<text x="641.67" y="486.83" font-size="39" font-weight="bold" fill="#000" transform="rotate(-45 641.67 486.83)">Ctrl</text>
<text x="670.49" y="516.29" font-size="39" font-weight="bold" fill="#000" transform="rotate(-45 670.49 516.29)">BDNF</text>
<text x="721.11" y="525.43" font-size="39" font-weight="bold" fill="#000" transform="rotate(-45 721.11 525.43)">0.2nM</text>
<text x="779.76" y="525.43" font-size="39" font-weight="bold" fill="#000" transform="rotate(-45 779.76 525.43)">0.6nM</text>
<text x="838.56" y="522.22" font-size="39" font-weight="bold" fill="#000" transform="rotate(-45 838.56 522.22)">1.8nM</text>
<text x="1011.14" y="49.5" font-size="54" font-weight="bold" fill="#000">c</text>
<line x1="1192.5" y1="56.6" x2="1192.5" y2="352.9" stroke="#000" stroke-width="3" stroke-linecap="butt"/>
<line x1="1183.5" y1="351.4" x2="1192.5" y2="351.4" stroke="#000" stroke-width="3" stroke-linecap="butt"/>
<text x="1144.05" y="363.47" font-size="35" font-weight="bold" fill="#000">50</text>
<line x1="1183.5" y1="278.1" x2="1192.5" y2="278.1" stroke="#000" stroke-width="3" stroke-linecap="butt"/>
<text x="1144.05" y="290.17" font-size="35" font-weight="bold" fill="#000">60</text>
<line x1="1183.5" y1="204.8" x2="1192.5" y2="204.8" stroke="#000" stroke-width="3" stroke-linecap="butt"/>
<text x="1144.05" y="216.87" font-size="35" font-weight="bold" fill="#000">70</text>
<line x1="1183.5" y1="131.5" x2="1192.5" y2="131.5" stroke="#000" stroke-width="3" stroke-linecap="butt"/>
<text x="1144.05" y="143.57" font-size="35" font-weight="bold" fill="#000">80</text>
<line x1="1183.5" y1="58.2" x2="1192.5" y2="58.2" stroke="#000" stroke-width="3" stroke-linecap="butt"/>
<text x="1144.05" y="70.27" font-size="35" font-weight="bold" fill="#000">90</text>
<line x1="1183" y1="351.4" x2="1487" y2="351.4" stroke="#000" stroke-width="3.2" stroke-linecap="butt"/>
<line x1="1221" y1="351.4" x2="1221" y2="360.4" stroke="#000" stroke-width="3.2" stroke-linecap="butt"/>
<line x1="1280" y1="351.4" x2="1280" y2="360.4" stroke="#000" stroke-width="3.2" stroke-linecap="butt"/>
<line x1="1339" y1="351.4" x2="1339" y2="360.4" stroke="#000" stroke-width="3.2" stroke-linecap="butt"/>
<line x1="1397" y1="351.4" x2="1397" y2="360.4" stroke="#000" stroke-width="3.2" stroke-linecap="butt"/>
<line x1="1455.7" y1="351.4" x2="1455.7" y2="360.4" stroke="#000" stroke-width="3.2" stroke-linecap="butt"/>
<path d="M1203.15,351.4 V289.25 H1240.35 V351.4" fill="none" stroke="#000" stroke-width="4.3"/>
<path d="M1262.15,351.4 V201.05 H1298.85 V351.4" fill="none" stroke="#a60be0" stroke-width="4.3"/>
<path d="M1320.15,351.4 V273.65 H1356.85 V351.4" fill="none" stroke="#b65ce0" stroke-width="4.3"/>
<path d="M1378.15,351.4 V191.05 H1414.85 V351.4" fill="none" stroke="#ff4343" stroke-width="4.3"/>
<path d="M1437.15,351.4 V285.95 H1473.85 V351.4" fill="none" stroke="#ffa3a3" stroke-width="4.3"/>
<circle cx="1221.5" cy="223.2" r="6" fill="#000"/>
<circle cx="1213.2" cy="299.8" r="6" fill="#000"/>
<circle cx="1229.8" cy="305.8" r="6" fill="#000"/>
<circle cx="1221.5" cy="328.1" r="6" fill="#000"/>
<rect x="1274.8" y="148.2" width="12" height="12" fill="#a60be0"/>
<rect x="1265.5" y="178.9" width="12" height="12" fill="#a60be0"/>
<rect x="1283.1" y="188.2" width="12" height="12" fill="#a60be0"/>
<rect x="1274.8" y="260.5" width="12" height="12" fill="#a60be0"/>
<path d="M1329.8,247.96 L1336.7,259.36 L1322.9,259.36Z" fill="#b65ce0"/>
<path d="M1348.1,247.96 L1355,259.36 L1341.2,259.36Z" fill="#b65ce0"/>
<path d="M1338.8,312.96 L1345.7,324.36 L1331.9,324.36Z" fill="#b65ce0"/>
<path d="M1388.7,173.44 L1395.6,162.04 L1381.8,162.04Z" fill="#ff4343"/>
<path d="M1414,186.74 L1420.9,175.34 L1407.1,175.34Z" fill="#ff4343"/>
<path d="M1388.7,221.74 L1395.6,210.34 L1381.8,210.34Z" fill="#ff4343"/>
<path d="M1405.4,200.04 L1412.3,188.64 L1398.5,188.64Z" fill="#ff4343"/>
<path d="M1455.7,244.76 L1463.14,252.2 L1455.7,259.64 L1448.26,252.2Z" fill="#ffa3a3"/>
<path d="M1446.4,282.36 L1453.84,289.8 L1446.4,297.24 L1438.96,289.8Z" fill="#ffa3a3"/>
<path d="M1465.7,292.36 L1473.14,299.8 L1465.7,307.24 L1458.26,299.8Z" fill="#ffa3a3"/>
<path d="M1455.7,295.66 L1463.14,303.1 L1455.7,310.54 L1448.26,303.1Z" fill="#ffa3a3"/>
<line x1="1221" y1="264.4" x2="1221" y2="313.1" stroke="#000" stroke-width="4.2" stroke-linecap="butt"/>
<line x1="1211" y1="266.5" x2="1231" y2="266.5" stroke="#000" stroke-width="4.2" stroke-linecap="butt"/>
<line x1="1211" y1="311" x2="1231" y2="311" stroke="#000" stroke-width="4.2" stroke-linecap="butt"/>
<line x1="1280" y1="173.8" x2="1280" y2="226" stroke="#000" stroke-width="4.2" stroke-linecap="butt"/>
<line x1="1270" y1="175.9" x2="1290" y2="175.9" stroke="#000" stroke-width="4.2" stroke-linecap="butt"/>
<line x1="1270" y1="223.9" x2="1290" y2="223.9" stroke="#000" stroke-width="4.2" stroke-linecap="butt"/>
<line x1="1339" y1="255.4" x2="1339" y2="291.2" stroke="#000" stroke-width="4.2" stroke-linecap="butt"/>
<line x1="1329" y1="257.5" x2="1349" y2="257.5" stroke="#000" stroke-width="4.2" stroke-linecap="butt"/>
<line x1="1329" y1="289.1" x2="1349" y2="289.1" stroke="#000" stroke-width="4.2" stroke-linecap="butt"/>
<line x1="1397" y1="178.4" x2="1397" y2="203" stroke="#000" stroke-width="4.2" stroke-linecap="butt"/>
<line x1="1387" y1="180.5" x2="1407" y2="180.5" stroke="#000" stroke-width="4.2" stroke-linecap="butt"/>
<line x1="1387" y1="200.9" x2="1407" y2="200.9" stroke="#000" stroke-width="4.2" stroke-linecap="butt"/>
<line x1="1455.7" y1="271.7" x2="1455.7" y2="299.2" stroke="#000" stroke-width="4.2" stroke-linecap="butt"/>
<line x1="1445.7" y1="273.8" x2="1465.7" y2="273.8" stroke="#000" stroke-width="4.2" stroke-linecap="butt"/>
<line x1="1445.7" y1="297.1" x2="1465.7" y2="297.1" stroke="#000" stroke-width="4.2" stroke-linecap="butt"/>
<polyline points="1278.5,137 1278.5,114.5 1339,114.5 1339,231.5" fill="none" stroke="#000" stroke-width="2.4" stroke-linejoin="miter"/>
<polyline points="1396.1,147.7 1396.1,132.5 1456.6,132.5 1456.6,231.5" fill="none" stroke="#000" stroke-width="2.4" stroke-linejoin="miter"/>
<rect x="1301.85" y="98.9" width="16.5" height="4.2" rx="1" fill="#000" transform="rotate(90 1310.1 101)"/>
<rect x="1301.85" y="98.9" width="16.5" height="4.2" rx="1" fill="#000" transform="rotate(30 1310.1 101)"/>
<rect x="1301.85" y="98.9" width="16.5" height="4.2" rx="1" fill="#000" transform="rotate(-30 1310.1 101)"/>
<rect x="1407.25" y="117.8" width="16.5" height="4.2" rx="1" fill="#000" transform="rotate(90 1415.5 119.9)"/>
<rect x="1407.25" y="117.8" width="16.5" height="4.2" rx="1" fill="#000" transform="rotate(30 1415.5 119.9)"/>
<rect x="1407.25" y="117.8" width="16.5" height="4.2" rx="1" fill="#000" transform="rotate(-30 1415.5 119.9)"/>
<rect x="1428.65" y="117.8" width="16.5" height="4.2" rx="1" fill="#000" transform="rotate(90 1436.9 119.9)"/>
<rect x="1428.65" y="117.8" width="16.5" height="4.2" rx="1" fill="#000" transform="rotate(30 1436.9 119.9)"/>
<rect x="1428.65" y="117.8" width="16.5" height="4.2" rx="1" fill="#000" transform="rotate(-30 1436.9 119.9)"/>
<text x="1238.73" y="78.6" font-size="31.87" font-weight="normal" fill="#000">p=0.0337</text>
<text x="1367.14" y="103.7" font-size="31.63" font-weight="normal" fill="#000">p=0.0057</text>
<text x="1082.9" y="345.5" font-size="38.48" font-weight="bold" fill="#000" transform="rotate(-90 1082.9 345.5)">First polar body</text>
<text x="1129.15" y="319.61" font-size="40.2" font-weight="bold" fill="#000" transform="rotate(-90 1129.15 319.61)">extrusion(%)</text>
<text x="1072.33" y="411.7" font-size="38.02" font-weight="bold" fill="#000">BDNF</text>
<text x="1040.05" y="455.12" font-size="37.84" font-weight="bold" fill="#000">Ab4B19</text>
<text x="1071.42" y="499.63" font-size="36.64" font-weight="bold" fill="#000">K252a</text>
<rect x="1213.2" y="390" width="15.6" height="8" fill="#000"/>
<rect x="1274.2" y="437.9" width="15.6" height="8" fill="#000"/>
<rect x="1333.1" y="437.9" width="15.6" height="8" fill="#000"/>
<rect x="1390.1" y="390" width="15.6" height="8" fill="#000"/>
<rect x="1450.5" y="390" width="15.6" height="8" fill="#000"/>
<rect x="1213.2" y="437.9" width="15.6" height="8" fill="#000"/>
<rect x="1213.2" y="481.7" width="15.6" height="8" fill="#000"/>
<rect x="1274.2" y="481.7" width="15.6" height="8" fill="#000"/>
<rect x="1390.1" y="481.7" width="15.6" height="8" fill="#000"/>
<rect x="1271.1" y="389.9" width="24.4" height="7.8" fill="#000"/>
<rect x="1279.4" y="381.3" width="7.8" height="25" fill="#000"/>
<rect x="1329.6" y="389.9" width="24.4" height="7.8" fill="#000"/>
<rect x="1337.9" y="381.3" width="7.8" height="25" fill="#000"/>
<rect x="1386.9" y="435" width="24.4" height="7.8" fill="#000"/>
<rect x="1395.2" y="426.4" width="7.8" height="25" fill="#000"/>
<rect x="1447" y="435" width="24.4" height="7.8" fill="#000"/>
<rect x="1455.3" y="426.4" width="7.8" height="25" fill="#000"/>
<rect x="1329.6" y="480.4" width="24.4" height="7.8" fill="#000"/>
<rect x="1337.9" y="471.8" width="7.8" height="25" fill="#000"/>
<rect x="1447" y="480.4" width="24.4" height="7.8" fill="#000"/>
<rect x="1455.3" y="471.8" width="7.8" height="25" fill="#000"/>
<line x1="1276.4" y1="612" x2="1276.4" y2="930" stroke="#000" stroke-width="3.6" stroke-linecap="butt"/>
<line x1="1267.4" y1="928.4" x2="1276.4" y2="928.4" stroke="#000" stroke-width="3.6" stroke-linecap="butt"/>
<text x="1248.23" y="940.3" font-size="34.5" font-weight="bold" fill="#000">0</text>
<line x1="1267.4" y1="865.5" x2="1276.4" y2="865.5" stroke="#000" stroke-width="3.6" stroke-linecap="butt"/>
<text x="1248.23" y="877.58" font-size="34.5" font-weight="bold" fill="#000">2</text>
<line x1="1267.4" y1="802.6" x2="1276.4" y2="802.6" stroke="#000" stroke-width="3.6" stroke-linecap="butt"/>
<text x="1247.03" y="814.5" font-size="34.5" font-weight="bold" fill="#000">4</text>
<line x1="1267.4" y1="739.7" x2="1276.4" y2="739.7" stroke="#000" stroke-width="3.6" stroke-linecap="butt"/>
<text x="1248.06" y="751.6" font-size="34.5" font-weight="bold" fill="#000">6</text>
<line x1="1267.4" y1="676.8" x2="1276.4" y2="676.8" stroke="#000" stroke-width="3.6" stroke-linecap="butt"/>
<text x="1247.89" y="688.7" font-size="34.5" font-weight="bold" fill="#000">8</text>
<line x1="1267.4" y1="613.9" x2="1276.4" y2="613.9" stroke="#000" stroke-width="3.6" stroke-linecap="butt"/>
<text x="1229.09" y="625.8" font-size="34.5" font-weight="bold" fill="#000">10</text>
<line x1="1267.5" y1="928.4" x2="1469" y2="928.4" stroke="#000" stroke-width="3.6" stroke-linecap="butt"/>
<line x1="1323.7" y1="928.4" x2="1323.7" y2="939.4" stroke="#000" stroke-width="3.6" stroke-linecap="butt"/>
<line x1="1418.5" y1="928.4" x2="1418.5" y2="939.4" stroke="#000" stroke-width="3.6" stroke-linecap="butt"/>
<path d="M1293.15,928.4 V736.95 H1354.65 V928.4" fill="none" stroke="#5a5af5" stroke-width="4.3"/>
<path d="M1387.75,928.4 V685.15 H1449.25 V928.4" fill="none" stroke="#f94444" stroke-width="4.3"/>
<circle cx="1314.8" cy="709" r="5.75" fill="#5a5af5"/>
<circle cx="1332" cy="709" r="5.75" fill="#5a5af5"/>
<circle cx="1307" cy="741" r="5.75" fill="#5a5af5"/>
<circle cx="1340" cy="741" r="5.75" fill="#5a5af5"/>
<circle cx="1323.7" cy="772" r="5.75" fill="#5a5af5"/>
<rect x="1403.1" y="640.7" width="10.6" height="10.6" fill="#f94444"/>
<rect x="1422.1" y="640.7" width="10.6" height="10.6" fill="#f94444"/>
<rect x="1403.1" y="671.3" width="10.6" height="10.6" fill="#f94444"/>
<rect x="1422.1" y="671.3" width="10.6" height="10.6" fill="#f94444"/>
<rect x="1413.2" y="704.2" width="10.6" height="10.6" fill="#f94444"/>
<rect x="1413.2" y="736.3" width="10.6" height="10.6" fill="#f94444"/>
<line x1="1323.7" y1="723.9" x2="1323.7" y2="748.1" stroke="#000" stroke-width="4.2" stroke-linecap="butt"/>
<line x1="1307.7" y1="726" x2="1339.7" y2="726" stroke="#000" stroke-width="4.2" stroke-linecap="butt"/>
<line x1="1307.7" y1="746" x2="1339.7" y2="746" stroke="#000" stroke-width="4.2" stroke-linecap="butt"/>
<line x1="1418.5" y1="665.9" x2="1418.5" y2="700.7" stroke="#000" stroke-width="4.2" stroke-linecap="butt"/>
<line x1="1402.5" y1="668" x2="1434.5" y2="668" stroke="#000" stroke-width="4.2" stroke-linecap="butt"/>
<line x1="1402.5" y1="698.6" x2="1434.5" y2="698.6" stroke="#000" stroke-width="4.2" stroke-linecap="butt"/>
<polyline points="1324.4,694 1324.4,621.7 1419.3,621.7 1419.3,633.6" fill="none" stroke="#000" stroke-width="2.6" stroke-linejoin="miter"/>
<rect x="1353.35" y="605.9" width="16.5" height="4.2" rx="1" fill="#000" transform="rotate(90 1361.6 608)"/>
<rect x="1353.35" y="605.9" width="16.5" height="4.2" rx="1" fill="#000" transform="rotate(30 1361.6 608)"/>
<rect x="1353.35" y="605.9" width="16.5" height="4.2" rx="1" fill="#000" transform="rotate(-30 1361.6 608)"/>
<rect x="1375.15" y="605.9" width="16.5" height="4.2" rx="1" fill="#000" transform="rotate(90 1383.4 608)"/>
<rect x="1375.15" y="605.9" width="16.5" height="4.2" rx="1" fill="#000" transform="rotate(30 1383.4 608)"/>
<rect x="1375.15" y="605.9" width="16.5" height="4.2" rx="1" fill="#000" transform="rotate(-30 1383.4 608)"/>
<text x="1312.78" y="584.3" font-size="31.13" font-weight="normal" fill="#000">p=0.0074</text>
<text x="1179.63" y="867.5" font-size="41.56" font-weight="bold" fill="#000" transform="rotate(-90 1179.63 867.5)">Number of</text>
<text x="1223.69" y="893.12" font-size="40.4" font-weight="bold" fill="#000" transform="rotate(-90 1223.69 893.12)">corpora lutea</text>
<text x="1216.52" y="1045.98" font-size="39.83" font-weight="bold" fill="#000" transform="rotate(-33 1216.52 1045.98)">Vehicle</text>
<text x="1303.93" y="1050.77" font-size="39.18" font-weight="bold" fill="#000" transform="rotate(-33 1303.93 1050.77)">Ab4B19</text>
<text x="5.89" y="1680" font-size="54" font-weight="bold" fill="#000">f</text>
<line x1="250.3" y1="1729.5" x2="250.3" y2="2027.7" stroke="#000" stroke-width="4" stroke-linecap="butt"/>
<line x1="241.3" y1="2026.2" x2="250.3" y2="2026.2" stroke="#000" stroke-width="4" stroke-linecap="butt"/>
<text x="220.57" y="2038.28" font-size="35" font-weight="bold" fill="#000">0</text>
<line x1="241.3" y1="1912.9" x2="250.3" y2="1912.9" stroke="#000" stroke-width="4" stroke-linecap="butt"/>
<text x="162.12" y="1924.98" font-size="35" font-weight="bold" fill="#000">1000</text>
<line x1="241.3" y1="1799.6" x2="250.3" y2="1799.6" stroke="#000" stroke-width="4" stroke-linecap="butt"/>
<text x="162.12" y="1811.68" font-size="35" font-weight="bold" fill="#000">2000</text>
<line x1="242" y1="2026.2" x2="450" y2="2026.2" stroke="#000" stroke-width="4" stroke-linecap="butt"/>
<line x1="299.7" y1="2026.2" x2="299.7" y2="2035.2" stroke="#000" stroke-width="4" stroke-linecap="butt"/>
<line x1="398.2" y1="2026.2" x2="398.2" y2="2035.2" stroke="#000" stroke-width="4" stroke-linecap="butt"/>
<path d="M268.55,2026.2 V1796.65 H331.65 V2026.2" fill="none" stroke="#5a5af5" stroke-width="4.3"/>
<path d="M366.95,2026.2 V1794.15 H430.75 V2026.2" fill="none" stroke="#f94444" stroke-width="4.3"/>
<circle cx="300" cy="1769" r="6" fill="#5a5af5"/>
<circle cx="292" cy="1791" r="6" fill="#5a5af5"/>
<circle cx="318" cy="1797" r="6" fill="#5a5af5"/>
<circle cx="308" cy="1808" r="6" fill="#5a5af5"/>
<circle cx="291" cy="1814" r="6" fill="#5a5af5"/>
<rect x="392.9" y="1758.7" width="10.6" height="10.6" fill="#f94444"/>
<rect x="404.7" y="1787.7" width="10.6" height="10.6" fill="#f94444"/>
<rect x="411.7" y="1789.7" width="10.6" height="10.6" fill="#f94444"/>
<rect x="399.7" y="1799.7" width="10.6" height="10.6" fill="#f94444"/>
<rect x="383.7" y="1809.7" width="10.6" height="10.6" fill="#f94444"/>
<line x1="299.7" y1="1784.9" x2="299.7" y2="1805.1" stroke="#000" stroke-width="4.2" stroke-linecap="butt"/>
<line x1="284.7" y1="1787" x2="314.7" y2="1787" stroke="#000" stroke-width="4.2" stroke-linecap="butt"/>
<line x1="284.7" y1="1803" x2="314.7" y2="1803" stroke="#000" stroke-width="4.2" stroke-linecap="butt"/>
<line x1="398.2" y1="1780.9" x2="398.2" y2="1803.1" stroke="#000" stroke-width="4.2" stroke-linecap="butt"/>
<line x1="383.2" y1="1783" x2="413.2" y2="1783" stroke="#000" stroke-width="4.2" stroke-linecap="butt"/>
<line x1="383.2" y1="1801" x2="413.2" y2="1801" stroke="#000" stroke-width="4.2" stroke-linecap="butt"/>
<polyline points="298.9,1751.4 298.9,1743.4 400.3,1743.4 400.3,1751.4" fill="none" stroke="#000" stroke-width="2.5" stroke-linejoin="miter"/>
<text x="327.88" y="1737.87" font-size="43.35" font-weight="normal" fill="#000">ns</text>
<text x="282.69" y="1699.5" font-size="32.44" font-weight="normal" fill="#000">p=0.7929</text>
<text x="113.75" y="1968.23" font-size="38.97" font-weight="bold" fill="#000" transform="rotate(-90 113.75 1968.23)">Number of</text>
<text x="160.26" y="2046.35" font-size="39.25" font-weight="bold" fill="#000" transform="rotate(-90 160.26 2046.35)">primordial follicles</text>
<line x1="662" y1="1734" x2="662" y2="2031.5" stroke="#000" stroke-width="4" stroke-linecap="butt"/>
<line x1="653" y1="2030" x2="662" y2="2030" stroke="#000" stroke-width="4" stroke-linecap="butt"/>
<text x="637.18" y="2042.08" font-size="35" font-weight="bold" fill="#000">0</text>
<line x1="653" y1="1964.5" x2="662" y2="1964.5" stroke="#000" stroke-width="4" stroke-linecap="butt"/>
<text x="598.33" y="1976.58" font-size="35" font-weight="bold" fill="#000">100</text>
<line x1="653" y1="1899" x2="662" y2="1899" stroke="#000" stroke-width="4" stroke-linecap="butt"/>
<text x="598.33" y="1911.08" font-size="35" font-weight="bold" fill="#000">200</text>
<line x1="653" y1="1833.5" x2="662" y2="1833.5" stroke="#000" stroke-width="4" stroke-linecap="butt"/>
<text x="598.33" y="1845.58" font-size="35" font-weight="bold" fill="#000">300</text>
<line x1="653" y1="1768" x2="662" y2="1768" stroke="#000" stroke-width="4" stroke-linecap="butt"/>
<text x="598.33" y="1780.08" font-size="35" font-weight="bold" fill="#000">400</text>
<line x1="653.6" y1="2030" x2="861.2" y2="2030" stroke="#000" stroke-width="4" stroke-linecap="butt"/>
<line x1="711.3" y1="2030" x2="711.3" y2="2039" stroke="#000" stroke-width="4" stroke-linecap="butt"/>
<line x1="810.4" y1="2030" x2="810.4" y2="2039" stroke="#000" stroke-width="4" stroke-linecap="butt"/>
<path d="M679.75,2030 V1814.15 H743.85 V2030" fill="none" stroke="#5a5af5" stroke-width="4.3"/>
<path d="M778.15,2030 V1785.05 H842.35 V2030" fill="none" stroke="#f94444" stroke-width="4.3"/>
<circle cx="711.3" cy="1781.2" r="6" fill="#000"/>
<circle cx="702" cy="1805.2" r="6" fill="#000"/>
<circle cx="728.7" cy="1814.2" r="6" fill="#000"/>
<circle cx="720.3" cy="1824.6" r="6" fill="#000"/>
<circle cx="702" cy="1841" r="6" fill="#000"/>
<rect x="805.1" y="1756.5" width="10.6" height="10.6" fill="#000"/>
<rect x="822.5" y="1766.6" width="10.6" height="10.6" fill="#000"/>
<rect x="786.7" y="1776.6" width="10.6" height="10.6" fill="#000"/>
<rect x="805.1" y="1780.9" width="10.6" height="10.6" fill="#000"/>
<rect x="805.1" y="1808.9" width="10.6" height="10.6" fill="#000"/>
<line x1="711.3" y1="1800.9" x2="711.3" y2="1825.1" stroke="#5a5af5" stroke-width="4.2" stroke-linecap="butt"/>
<line x1="695.3" y1="1803" x2="727.3" y2="1803" stroke="#5a5af5" stroke-width="4.2" stroke-linecap="butt"/>
<line x1="695.3" y1="1823" x2="727.3" y2="1823" stroke="#5a5af5" stroke-width="4.2" stroke-linecap="butt"/>
<line x1="810.4" y1="1772.4" x2="810.4" y2="1795.1" stroke="#f94444" stroke-width="4.2" stroke-linecap="butt"/>
<line x1="794.4" y1="1774.5" x2="826.4" y2="1774.5" stroke="#f94444" stroke-width="4.2" stroke-linecap="butt"/>
<line x1="794.4" y1="1793" x2="826.4" y2="1793" stroke="#f94444" stroke-width="4.2" stroke-linecap="butt"/>
<polyline points="709.6,1753.5 709.6,1744.5 812,1744.5 812,1753.5" fill="none" stroke="#000" stroke-width="2.5" stroke-linejoin="miter"/>
<text x="739.16" y="1738.06" font-size="43.66" font-weight="normal" fill="#000">ns</text>
<text x="698.23" y="1701" font-size="31.83" font-weight="normal" fill="#000">p=0.0571</text>
<text x="536.52" y="1972.43" font-size="38.93" font-weight="bold" fill="#000" transform="rotate(-90 536.52 1972.43)">Number of</text>
<text x="581.65" y="2030.21" font-size="38.56" font-weight="bold" fill="#000" transform="rotate(-90 581.65 2030.21)">preantral follicles</text>
<line x1="1063.5" y1="1736" x2="1063.5" y2="2033.7" stroke="#000" stroke-width="4" stroke-linecap="butt"/>
<line x1="1054.5" y1="2032.2" x2="1063.5" y2="2032.2" stroke="#000" stroke-width="4" stroke-linecap="butt"/>
<text x="1038.88" y="2044.28" font-size="35" font-weight="bold" fill="#000">0</text>
<line x1="1054.5" y1="1958.7" x2="1063.5" y2="1958.7" stroke="#000" stroke-width="4" stroke-linecap="butt"/>
<text x="1019.45" y="1970.78" font-size="35" font-weight="bold" fill="#000">50</text>
<line x1="1054.5" y1="1885.2" x2="1063.5" y2="1885.2" stroke="#000" stroke-width="4" stroke-linecap="butt"/>
<text x="1000.03" y="1897.28" font-size="35" font-weight="bold" fill="#000">100</text>
<line x1="1054.5" y1="1811.7" x2="1063.5" y2="1811.7" stroke="#000" stroke-width="4" stroke-linecap="butt"/>
<text x="1000.03" y="1823.78" font-size="35" font-weight="bold" fill="#000">150</text>
<line x1="1054.5" y1="1738.2" x2="1063.5" y2="1738.2" stroke="#000" stroke-width="4" stroke-linecap="butt"/>
<text x="1000.03" y="1750.28" font-size="35" font-weight="bold" fill="#000">200</text>
<line x1="1055" y1="2032.2" x2="1263" y2="2032.2" stroke="#000" stroke-width="4" stroke-linecap="butt"/>
<line x1="1112.6" y1="2032.2" x2="1112.6" y2="2041.2" stroke="#000" stroke-width="4" stroke-linecap="butt"/>
<line x1="1211" y1="2032.2" x2="1211" y2="2041.2" stroke="#000" stroke-width="4" stroke-linecap="butt"/>
<path d="M1081.15,2032.2 V1870.75 H1144.15 V2032.2" fill="none" stroke="#5a5af5" stroke-width="4.3"/>
<path d="M1179.85,2032.2 V1777.35 H1242.65 V2032.2" fill="none" stroke="#f94444" stroke-width="4.3"/>
<circle cx="1112.6" cy="1826.3" r="6" fill="#5a5af5"/>
<circle cx="1122" cy="1848.6" r="6" fill="#5a5af5"/>
<circle cx="1103.6" cy="1863" r="6" fill="#5a5af5"/>
<circle cx="1112.6" cy="1893" r="6" fill="#5a5af5"/>
<circle cx="1112.6" cy="1915.4" r="6" fill="#5a5af5"/>
<rect x="1205.7" y="1747.5" width="10.6" height="10.6" fill="#f94444"/>
<rect x="1225.1" y="1769.2" width="10.6" height="10.6" fill="#f94444"/>
<rect x="1215.1" y="1776.6" width="10.6" height="10.6" fill="#f94444"/>
<rect x="1197.4" y="1791.6" width="10.6" height="10.6" fill="#f94444"/>
<line x1="1112.6" y1="1850.9" x2="1112.6" y2="1887.4" stroke="#000" stroke-width="4.2" stroke-linecap="butt"/>
<line x1="1096.6" y1="1853" x2="1128.6" y2="1853" stroke="#000" stroke-width="4.2" stroke-linecap="butt"/>
<line x1="1096.6" y1="1885.3" x2="1128.6" y2="1885.3" stroke="#000" stroke-width="4.2" stroke-linecap="butt"/>
<line x1="1211" y1="1766.4" x2="1211" y2="1785.6" stroke="#000" stroke-width="4.2" stroke-linecap="butt"/>
<line x1="1195" y1="1768.5" x2="1227" y2="1768.5" stroke="#000" stroke-width="4.2" stroke-linecap="butt"/>
<line x1="1195" y1="1783.5" x2="1227" y2="1783.5" stroke="#000" stroke-width="4.2" stroke-linecap="butt"/>
<polyline points="1112,1808.6 1112,1731 1213.7,1731 1213.7,1740" fill="none" stroke="#000" stroke-width="2.5" stroke-linejoin="miter"/>
<rect x="1134.05" y="1716.4" width="16.5" height="4.2" rx="1" fill="#000" transform="rotate(90 1142.3 1718.5)"/>
<rect x="1134.05" y="1716.4" width="16.5" height="4.2" rx="1" fill="#000" transform="rotate(30 1142.3 1718.5)"/>
<rect x="1134.05" y="1716.4" width="16.5" height="4.2" rx="1" fill="#000" transform="rotate(-30 1142.3 1718.5)"/>
<rect x="1154.55" y="1716.4" width="16.5" height="4.2" rx="1" fill="#000" transform="rotate(90 1162.8 1718.5)"/>
<rect x="1154.55" y="1716.4" width="16.5" height="4.2" rx="1" fill="#000" transform="rotate(30 1162.8 1718.5)"/>
<rect x="1154.55" y="1716.4" width="16.5" height="4.2" rx="1" fill="#000" transform="rotate(-30 1162.8 1718.5)"/>
<rect x="1175.05" y="1716.4" width="16.5" height="4.2" rx="1" fill="#000" transform="rotate(90 1183.3 1718.5)"/>
<rect x="1175.05" y="1716.4" width="16.5" height="4.2" rx="1" fill="#000" transform="rotate(30 1183.3 1718.5)"/>
<rect x="1175.05" y="1716.4" width="16.5" height="4.2" rx="1" fill="#000" transform="rotate(-30 1183.3 1718.5)"/>
<text x="1094.8" y="1699.5" font-size="32.29" font-weight="normal" fill="#000">p=0.0007</text>
<text x="946.26" y="1971.57" font-size="38.01" font-weight="bold" fill="#000" transform="rotate(-90 946.26 1971.57)">Number of</text>
<text x="993.06" y="2062.26" font-size="38.98" font-weight="bold" fill="#000" transform="rotate(-90 993.06 2062.26)">early antral follicles</text>
<text x="2.84" y="2127" font-size="54" font-weight="bold" fill="#000">g</text>
<line x1="666.7" y1="2160.6" x2="666.7" y2="2454" stroke="#000" stroke-width="4" stroke-linecap="butt"/>
<line x1="657.7" y1="2452.2" x2="666.7" y2="2452.2" stroke="#000" stroke-width="4" stroke-linecap="butt"/>
<text x="606.65" y="2464.27" font-size="35" font-weight="bold" fill="#000">0.0</text>
<line x1="657.7" y1="2379.6" x2="666.7" y2="2379.6" stroke="#000" stroke-width="4" stroke-linecap="butt"/>
<text x="606.12" y="2391.67" font-size="35" font-weight="bold" fill="#000">0.5</text>
<line x1="657.7" y1="2307" x2="666.7" y2="2307" stroke="#000" stroke-width="4" stroke-linecap="butt"/>
<text x="606.65" y="2319.07" font-size="35" font-weight="bold" fill="#000">1.0</text>
<line x1="657.7" y1="2234.4" x2="666.7" y2="2234.4" stroke="#000" stroke-width="4" stroke-linecap="butt"/>
<text x="606.12" y="2246.3" font-size="35" font-weight="bold" fill="#000">1.5</text>
<line x1="657.7" y1="2161.8" x2="666.7" y2="2161.8" stroke="#000" stroke-width="4" stroke-linecap="butt"/>
<text x="606.65" y="2173.87" font-size="35" font-weight="bold" fill="#000">2.0</text>
<line x1="657.8" y1="2452.2" x2="863.8" y2="2452.2" stroke="#000" stroke-width="4" stroke-linecap="butt"/>
<line x1="715.2" y1="2452.2" x2="715.2" y2="2461.2" stroke="#000" stroke-width="4" stroke-linecap="butt"/>
<line x1="812.5" y1="2452.2" x2="812.5" y2="2461.2" stroke="#000" stroke-width="4" stroke-linecap="butt"/>
<path d="M683.75,2452.2 V2308.55 H746.75 V2452.2" fill="none" stroke="#5a5af5" stroke-width="4.3"/>
<path d="M781.35,2452.2 V2222.15 H843.45 V2452.2" fill="none" stroke="#f94444" stroke-width="4.3"/>
<circle cx="715.2" cy="2257.3" r="6" fill="#5a5af5"/>
<circle cx="706" cy="2299.3" r="6" fill="#5a5af5"/>
<circle cx="724.2" cy="2315.6" r="6" fill="#5a5af5"/>
<circle cx="715.2" cy="2357.7" r="6" fill="#5a5af5"/>
<rect x="807.2" y="2161.7" width="10.6" height="10.6" fill="#f94444"/>
<rect x="798.3" y="2210.7" width="10.6" height="10.6" fill="#f94444"/>
<rect x="816.5" y="2216.9" width="10.6" height="10.6" fill="#f94444"/>
<rect x="807.2" y="2273.9" width="10.6" height="10.6" fill="#f94444"/>
<line x1="715.2" y1="2284.1" x2="715.2" y2="2330.3" stroke="#000" stroke-width="4.2" stroke-linecap="butt"/>
<line x1="699.2" y1="2286.2" x2="731.2" y2="2286.2" stroke="#000" stroke-width="4.2" stroke-linecap="butt"/>
<line x1="699.2" y1="2328.2" x2="731.2" y2="2328.2" stroke="#000" stroke-width="4.2" stroke-linecap="butt"/>
<line x1="812.5" y1="2195.7" x2="812.5" y2="2246.1" stroke="#000" stroke-width="4.2" stroke-linecap="butt"/>
<line x1="796.5" y1="2197.8" x2="828.5" y2="2197.8" stroke="#000" stroke-width="4.2" stroke-linecap="butt"/>
<line x1="796.5" y1="2244" x2="828.5" y2="2244" stroke="#000" stroke-width="4.2" stroke-linecap="butt"/>
<polyline points="715.2,2243 715.2,2146 813.4,2146 813.4,2155" fill="none" stroke="#000" stroke-width="2.5" stroke-linejoin="miter"/>
<rect x="755.35" y="2131.9" width="16.5" height="4.2" rx="1" fill="#000" transform="rotate(90 763.6 2134)"/>
<rect x="755.35" y="2131.9" width="16.5" height="4.2" rx="1" fill="#000" transform="rotate(30 763.6 2134)"/>
<rect x="755.35" y="2131.9" width="16.5" height="4.2" rx="1" fill="#000" transform="rotate(-30 763.6 2134)"/>
<text x="706.11" y="2115.1" font-size="32.13" font-weight="normal" fill="#000">p=0.0311</text>
<text x="601.07" y="2416.38" font-size="39.13" font-weight="bold" fill="#000" transform="rotate(-90 601.07 2416.38)">AMH/β-actin</text>
<line x1="1073.4" y1="2160.3" x2="1073.4" y2="2456" stroke="#000" stroke-width="3.8" stroke-linecap="butt"/>
<line x1="1064.4" y1="2454.3" x2="1073.4" y2="2454.3" stroke="#000" stroke-width="3.8" stroke-linecap="butt"/>
<text x="1012.55" y="2466.38" font-size="35" font-weight="bold" fill="#000">0.0</text>
<line x1="1064.4" y1="2395.9" x2="1073.4" y2="2395.9" stroke="#000" stroke-width="3.8" stroke-linecap="butt"/>
<text x="1012.02" y="2407.97" font-size="35" font-weight="bold" fill="#000">0.5</text>
<line x1="1064.4" y1="2337.5" x2="1073.4" y2="2337.5" stroke="#000" stroke-width="3.8" stroke-linecap="butt"/>
<text x="1012.55" y="2349.57" font-size="35" font-weight="bold" fill="#000">1.0</text>
<line x1="1064.4" y1="2279.1" x2="1073.4" y2="2279.1" stroke="#000" stroke-width="3.8" stroke-linecap="butt"/>
<text x="1012.02" y="2291" font-size="35" font-weight="bold" fill="#000">1.5</text>
<line x1="1064.4" y1="2220.7" x2="1073.4" y2="2220.7" stroke="#000" stroke-width="3.8" stroke-linecap="butt"/>
<text x="1012.55" y="2232.78" font-size="35" font-weight="bold" fill="#000">2.0</text>
<line x1="1064.4" y1="2162.3" x2="1073.4" y2="2162.3" stroke="#000" stroke-width="3.8" stroke-linecap="butt"/>
<text x="1012.02" y="2174.38" font-size="35" font-weight="bold" fill="#000">2.5</text>
<line x1="1064.4" y1="2454.3" x2="1268.4" y2="2454.3" stroke="#000" stroke-width="4" stroke-linecap="butt"/>
<line x1="1120.8" y1="2454.3" x2="1120.8" y2="2463.3" stroke="#000" stroke-width="4" stroke-linecap="butt"/>
<line x1="1218" y1="2454.3" x2="1218" y2="2463.3" stroke="#000" stroke-width="4" stroke-linecap="butt"/>
<path d="M1090.65,2454.3 V2338.85 H1152.15 V2454.3" fill="none" stroke="#5a5af5" stroke-width="4.3"/>
<path d="M1188.15,2454.3 V2246.35 H1249.35 V2454.3" fill="none" stroke="#f94444" stroke-width="4.3"/>
<circle cx="1113" cy="2312" r="6" fill="#5a5af5"/>
<circle cx="1138.8" cy="2329.5" r="6" fill="#5a5af5"/>
<circle cx="1129" cy="2343.9" r="6" fill="#5a5af5"/>
<circle cx="1113" cy="2361.9" r="6" fill="#5a5af5"/>
<rect x="1213.1" y="2174.7" width="10.6" height="10.6" fill="#f94444"/>
<rect x="1213.1" y="2234.2" width="10.6" height="10.6" fill="#f94444"/>
<rect x="1204.1" y="2274.5" width="10.6" height="10.6" fill="#f94444"/>
<rect x="1222.1" y="2274.5" width="10.6" height="10.6" fill="#f94444"/>
<line x1="1120.8" y1="2324.5" x2="1120.8" y2="2350.3" stroke="#000" stroke-width="4.2" stroke-linecap="butt"/>
<line x1="1105.8" y1="2326.6" x2="1135.8" y2="2326.6" stroke="#000" stroke-width="4.2" stroke-linecap="butt"/>
<line x1="1105.8" y1="2348.2" x2="1135.8" y2="2348.2" stroke="#000" stroke-width="4.2" stroke-linecap="butt"/>
<line x1="1218" y1="2219.4" x2="1218" y2="2270.4" stroke="#000" stroke-width="4.2" stroke-linecap="butt"/>
<line x1="1203" y1="2221.5" x2="1233" y2="2221.5" stroke="#000" stroke-width="4.2" stroke-linecap="butt"/>
<line x1="1203" y1="2268.3" x2="1233" y2="2268.3" stroke="#000" stroke-width="4.2" stroke-linecap="butt"/>
<polyline points="1120.8,2304.3 1120.8,2158.5 1220,2158.5 1220,2167.5" fill="none" stroke="#000" stroke-width="2.5" stroke-linejoin="miter"/>
<rect x="1161.35" y="2144.7" width="16.5" height="4.2" rx="1" fill="#000" transform="rotate(90 1169.6 2146.8)"/>
<rect x="1161.35" y="2144.7" width="16.5" height="4.2" rx="1" fill="#000" transform="rotate(30 1169.6 2146.8)"/>
<rect x="1161.35" y="2144.7" width="16.5" height="4.2" rx="1" fill="#000" transform="rotate(-30 1169.6 2146.8)"/>
<text x="1110.78" y="2125.1" font-size="32.69" font-weight="normal" fill="#000">p=0.0116</text>
<text x="1008.3" y="2422.19" font-size="38.34" font-weight="bold" fill="#000" transform="rotate(-90 1008.3 2422.19)">FSHR/β-actin</text>
<circle cx="1280.3" cy="2076.5" r="6.3" fill="#5a5af5"/>
<text x="1314.28" y="2089.57" font-size="43.32" font-weight="bold" fill="#5a5af5">Vehicle</text>
<rect x="1274" y="2116.4" width="12.4" height="11.6" fill="#f94444"/>
<text x="1313.46" y="2136.58" font-size="41.53" font-weight="bold" fill="#f94444">Ab4B19</text>
<clipPath id="bc0"><rect x="177.5" y="2139.3" width="234" height="73.7"/></clipPath>
<rect x="176.3" y="2138.3" width="236.5" height="75.7" fill="#ebebeb"/>
<g clip-path="url(#bc0)"><rect x="183" y="2139.3" width="104" height="73.7" fill="#d6d6d6" opacity="0.7" filter="url(#bl6)"/>
<rect x="300" y="2139.3" width="108" height="73.7" fill="#d6d6d6" opacity="0.7" filter="url(#bl6)"/></g>
<clipPath id="bc1"><rect x="177.5" y="2232" width="234" height="73.4"/></clipPath>
<rect x="176.3" y="2231" width="236.5" height="75.4" fill="#ebebeb"/>
<g clip-path="url(#bc1)"><rect x="183" y="2232" width="104" height="73.4" fill="#d6d6d6" opacity="0.7" filter="url(#bl6)"/>
<rect x="300" y="2232" width="108" height="73.4" fill="#d6d6d6" opacity="0.7" filter="url(#bl6)"/></g>
<clipPath id="bc2"><rect x="177.5" y="2326.8" width="234" height="85.9"/></clipPath>
<rect x="176.3" y="2325.8" width="236.5" height="87.9" fill="#ebebeb"/>
<g clip-path="url(#bc2)"><rect x="183" y="2326.8" width="104" height="85.9" fill="#d6d6d6" opacity="0.7" filter="url(#bl6)"/>
<rect x="300" y="2326.8" width="108" height="85.9" fill="#d6d6d6" opacity="0.7" filter="url(#bl6)"/></g>
<rect x="195" y="2170.5" width="80" height="13" rx="6.5" fill="#0a0a0a" opacity="1" filter="url(#bl4)"/>
<rect x="313" y="2169" width="83" height="19" rx="9.5" fill="#000" opacity="1" filter="url(#bl4)"/>
<rect x="196" y="2265" width="74" height="12" rx="6" fill="#505050" opacity="1" filter="url(#bl4)"/>
<rect x="313" y="2263.5" width="78" height="15" rx="7.5" fill="#202020" opacity="1" filter="url(#bl4)"/>
<circle cx="210" cy="2272" r="4" fill="#444" filter="url(#bl2)"/>
<circle cx="242" cy="2253" r="3" fill="#777" filter="url(#bl2)"/>
<circle cx="214" cy="2293" r="3" fill="#888" filter="url(#bl2)"/>
<circle cx="324" cy="2270" r="5" fill="#111" filter="url(#bl2)"/>
<circle cx="375" cy="2274" r="4" fill="#111" filter="url(#bl2)"/>
<circle cx="388" cy="2278" r="5" fill="#111" filter="url(#bl2)"/>
<circle cx="377" cy="2292" r="3" fill="#666" filter="url(#bl2)"/>
<circle cx="226" cy="2243" r="2.5" fill="#999" filter="url(#bl2)"/>
<rect x="194" y="2370" width="84" height="19" rx="9.5" fill="#161616" opacity="1" filter="url(#bl4)"/>
<rect x="304" y="2361" width="91" height="22" rx="11" fill="#161616" opacity="1" filter="url(#bl4)"/>
<rect x="176.3" y="2138.3" width="236.5" height="75.7" fill="none" stroke="#000" stroke-width="2.6"/>
<rect x="176.3" y="2231" width="236.5" height="75.4" fill="none" stroke="#000" stroke-width="2.6"/>
<rect x="176.3" y="2325.8" width="236.5" height="87.9" fill="none" stroke="#000" stroke-width="2.6"/>
<text x="79.56" y="2197" font-size="37.53" font-weight="bold" fill="#000">AMH</text>
<text x="64.59" y="2283.43" font-size="37.15" font-weight="bold" fill="#000">FSHR</text>
<text x="42.36" y="2382.77" font-size="39.21" font-weight="bold" fill="#000">β-actin</text>
<line x1="414.8" y1="2202" x2="447.8" y2="2202" stroke="#000" stroke-width="3.5" stroke-linecap="butt"/>
<line x1="414.8" y1="2297.7" x2="447.8" y2="2297.7" stroke="#000" stroke-width="3.5" stroke-linecap="butt"/>
<line x1="416" y1="2399" x2="449" y2="2399" stroke="#000" stroke-width="3.5" stroke-linecap="butt"/>
<text x="447.63" y="2215.71" font-size="39.04" font-weight="bold" fill="#000">50</text>
<text x="449.77" y="2311.22" font-size="38.18" font-weight="bold" fill="#000">75</text>
<text x="453.74" y="2404.92" font-size="38.28" font-weight="bold" fill="#000">37</text>
<text x="441.63" y="2451.82" font-size="38.14" font-weight="bold" fill="#000">kDa</text>
<text x="222.25" y="2125.5" font-size="38.91" font-weight="bold" fill="#000" transform="rotate(-24 222.25 2125.5)">Vehicle</text>
<text x="340.57" y="2120.26" font-size="38.84" font-weight="bold" fill="#000" transform="rotate(-16.5 340.57 2120.26)">Ab4B19</text>
</svg>
</body></html>
